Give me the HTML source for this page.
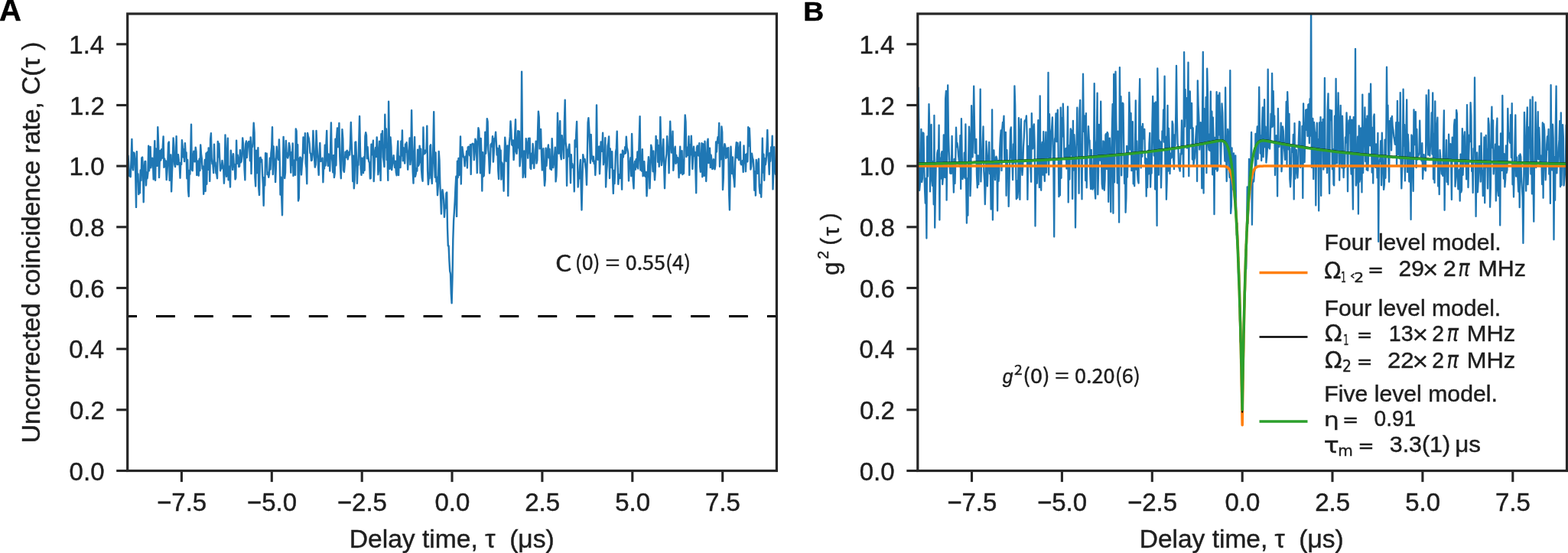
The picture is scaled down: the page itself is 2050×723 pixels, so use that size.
<!DOCTYPE html>
<html><head><meta charset="utf-8"><style>text{white-space:pre}html,body{margin:0;padding:0;background:#fff;width:2050px;height:723px;overflow:hidden}svg{display:block}</style></head>
<body>
<svg width="2050" height="723" viewBox="0 0 2050 723">
<rect width="2050" height="723" fill="#fff"/>
<defs><clipPath id="ca"><rect x="166.7" y="18.0" width="848.7" height="597.5"/></clipPath>
<clipPath id="cb"><rect x="1199.8" y="18.0" width="848.7" height="597.5"/></clipPath></defs>
<g clip-path="url(#ca)" fill="none" stroke-linejoin="round">
<path d="M166.7,208.5 L167.5,203.7 L168.3,216.7 L169.1,230.1 L169.9,223.9 L170.7,231.3 L171.6,207.1 L172.4,182.0 L173.2,217.8 L174.0,222.4 L174.8,199.5 L175.6,200.1 L176.4,208.5 L177.2,228.7 L178.0,270.9 L178.8,198.1 L179.6,237.0 L180.5,227.5 L181.3,254.1 L182.1,246.4 L182.9,252.2 L183.7,222.4 L184.5,235.9 L185.3,206.3 L186.1,205.6 L186.9,219.3 L187.7,264.3 L188.5,227.3 L189.4,211.2 L190.2,210.9 L191.0,242.4 L191.8,225.8 L192.6,233.2 L193.4,226.0 L194.2,190.8 L195.0,223.4 L195.8,209.5 L196.6,191.9 L197.4,219.3 L198.3,212.6 L199.1,206.8 L199.9,210.6 L200.7,234.5 L201.5,207.0 L202.3,184.1 L203.1,235.8 L203.9,194.5 L204.7,205.8 L205.5,216.9 L206.3,166.2 L207.2,190.6 L208.0,232.1 L208.8,209.0 L209.6,197.0 L210.4,209.5 L211.2,195.1 L212.0,206.7 L212.8,191.1 L213.6,178.4 L214.4,218.8 L215.2,207.5 L216.1,217.7 L216.9,210.5 L217.7,235.1 L218.5,224.7 L219.3,212.1 L220.1,187.2 L220.9,185.6 L221.7,235.8 L222.5,227.3 L223.3,202.4 L224.1,250.4 L225.0,224.0 L225.8,208.6 L226.6,180.5 L227.4,191.6 L228.2,214.7 L229.0,218.0 L229.8,210.9 L230.6,178.1 L231.4,214.4 L232.2,215.2 L233.0,202.2 L233.9,210.7 L234.7,216.0 L235.5,232.7 L236.3,212.9 L237.1,214.9 L237.9,183.3 L238.7,191.7 L239.5,205.5 L240.3,195.3 L241.1,211.1 L241.9,187.1 L242.8,204.2 L243.6,199.5 L244.4,233.3 L245.2,209.0 L246.0,248.7 L246.8,256.8 L247.6,222.6 L248.4,227.8 L249.2,201.3 L250.0,162.6 L250.8,221.7 L251.7,223.2 L252.5,204.3 L253.3,197.8 L254.1,211.3 L254.9,211.3 L255.7,192.6 L256.5,198.1 L257.3,229.0 L258.1,212.6 L258.9,210.5 L259.7,229.8 L260.6,207.8 L261.4,223.1 L262.2,189.4 L263.0,201.3 L263.8,207.3 L264.6,220.7 L265.4,217.5 L266.2,253.7 L267.0,236.4 L267.8,209.0 L268.6,250.0 L269.5,200.4 L270.3,240.8 L271.1,198.9 L271.9,221.9 L272.7,193.4 L273.5,207.2 L274.3,236.9 L275.1,181.8 L275.9,174.3 L276.7,206.3 L277.5,214.3 L278.3,214.6 L279.2,226.1 L280.0,188.6 L280.8,216.6 L281.6,212.5 L282.4,226.5 L283.2,226.6 L284.0,233.2 L284.8,185.0 L285.6,205.2 L286.4,187.7 L287.2,206.8 L288.1,223.3 L288.9,218.0 L289.7,220.4 L290.5,210.0 L291.3,216.4 L292.1,218.7 L292.9,239.8 L293.7,224.0 L294.5,176.5 L295.3,220.3 L296.1,230.8 L297.0,199.5 L297.8,180.7 L298.6,235.2 L299.4,217.5 L300.2,226.1 L301.0,244.6 L301.8,196.7 L302.6,205.9 L303.4,208.0 L304.2,222.0 L305.0,201.2 L305.9,218.0 L306.7,214.8 L307.5,234.5 L308.3,232.5 L309.1,183.6 L309.9,213.8 L310.7,202.6 L311.5,208.4 L312.3,218.1 L313.1,217.5 L313.9,196.1 L314.8,212.4 L315.6,211.2 L316.4,204.0 L317.2,180.4 L318.0,188.6 L318.8,198.7 L319.6,221.7 L320.4,235.4 L321.2,188.1 L322.0,184.5 L322.8,206.1 L323.7,193.9 L324.5,186.8 L325.3,184.9 L326.1,186.5 L326.9,210.2 L327.7,179.4 L328.5,227.1 L329.3,190.7 L330.1,191.9 L330.9,182.1 L331.7,160.8 L332.6,173.5 L333.4,231.6 L334.2,243.5 L335.0,196.7 L335.8,226.2 L336.6,207.5 L337.4,193.3 L338.2,244.9 L339.0,255.1 L339.8,206.7 L340.6,205.7 L341.5,211.6 L342.3,208.7 L343.1,228.7 L343.9,241.4 L344.7,268.9 L345.5,231.9 L346.3,242.6 L347.1,200.3 L347.9,205.4 L348.7,200.6 L349.5,228.1 L350.4,225.6 L351.2,231.7 L352.0,227.3 L352.8,206.6 L353.6,221.5 L354.4,200.0 L355.2,192.8 L356.0,166.2 L356.8,228.0 L357.6,191.4 L358.4,205.8 L359.3,210.6 L360.1,238.1 L360.9,217.8 L361.7,191.8 L362.5,205.7 L363.3,205.4 L364.1,208.9 L364.9,182.4 L365.7,209.2 L366.5,254.5 L367.3,231.7 L368.2,258.1 L369.0,281.4 L369.8,222.2 L370.6,178.9 L371.4,204.4 L372.2,233.0 L373.0,225.8 L373.8,183.9 L374.6,199.3 L375.4,204.4 L376.2,206.6 L377.1,202.9 L377.9,187.0 L378.7,191.2 L379.5,202.3 L380.3,225.8 L381.1,199.3 L381.9,215.8 L382.7,187.5 L383.5,229.9 L384.3,211.8 L385.1,209.5 L386.0,228.9 L386.8,168.5 L387.6,171.1 L388.4,209.2 L389.2,189.2 L390.0,262.6 L390.8,259.0 L391.6,207.0 L392.4,205.6 L393.2,206.4 L394.0,228.5 L394.9,214.2 L395.7,206.4 L396.5,179.5 L397.3,194.8 L398.1,200.2 L398.9,174.1 L399.7,213.7 L400.5,219.5 L401.3,240.3 L402.1,173.9 L402.9,177.8 L403.8,181.1 L404.6,187.9 L405.4,200.1 L406.2,200.5 L407.0,210.0 L407.8,209.5 L408.6,200.0 L409.4,171.0 L410.2,189.0 L411.0,205.9 L411.8,218.6 L412.7,215.2 L413.5,170.9 L414.3,189.3 L415.1,202.6 L415.9,214.5 L416.7,228.9 L417.5,206.4 L418.3,187.0 L419.1,210.9 L419.9,210.7 L420.7,209.2 L421.6,206.6 L422.4,238.2 L423.2,215.6 L424.0,220.4 L424.8,189.6 L425.6,216.5 L426.4,189.8 L427.2,170.9 L428.0,208.1 L428.8,216.9 L429.6,201.4 L430.5,206.0 L431.3,223.6 L432.1,191.3 L432.9,160.5 L433.7,204.3 L434.5,211.4 L435.3,225.4 L436.1,202.9 L436.9,232.0 L437.7,226.9 L438.5,181.7 L439.4,216.4 L440.2,178.9 L441.0,167.5 L441.8,192.3 L442.6,185.7 L443.4,161.0 L444.2,203.8 L445.0,219.8 L445.8,233.3 L446.6,201.9 L447.4,169.1 L448.3,181.3 L449.1,222.7 L449.9,224.9 L450.7,215.1 L451.5,198.6 L452.3,205.9 L453.1,198.0 L453.9,196.7 L454.7,208.4 L455.5,203.8 L456.3,198.6 L457.2,202.5 L458.0,187.2 L458.8,160.0 L459.6,184.9 L460.4,204.2 L461.2,237.0 L462.0,203.8 L462.8,246.3 L463.6,235.0 L464.4,186.0 L465.2,185.4 L466.1,208.0 L466.9,239.7 L467.7,216.3 L468.5,215.7 L469.3,184.3 L470.1,151.9 L470.9,193.4 L471.7,220.9 L472.5,228.9 L473.3,206.6 L474.1,208.7 L475.0,226.3 L475.8,205.3 L476.6,222.8 L477.4,178.3 L478.2,173.2 L479.0,177.0 L479.8,207.3 L480.6,192.1 L481.4,203.8 L482.2,210.8 L483.0,212.9 L483.9,233.5 L484.7,233.1 L485.5,188.6 L486.3,202.5 L487.1,194.3 L487.9,183.8 L488.7,237.1 L489.5,221.6 L490.3,198.2 L491.1,193.0 L491.9,205.0 L492.7,179.4 L493.6,196.7 L494.4,228.2 L495.2,221.4 L496.0,184.7 L496.8,193.6 L497.6,235.9 L498.4,175.3 L499.2,180.5 L500.0,171.3 L500.8,205.6 L501.6,210.5 L502.5,218.1 L503.3,149.8 L504.1,192.8 L504.9,168.5 L505.7,209.0 L506.5,202.6 L507.3,235.8 L508.1,132.7 L508.9,183.2 L509.7,220.8 L510.5,179.4 L511.4,192.4 L512.2,222.1 L513.0,214.1 L513.8,210.6 L514.6,203.1 L515.4,213.0 L516.2,219.1 L517.0,210.6 L517.8,225.2 L518.6,229.3 L519.4,201.2 L520.3,184.5 L521.1,229.1 L521.9,204.7 L522.7,215.3 L523.5,219.0 L524.3,184.7 L525.1,203.5 L525.9,170.5 L526.7,210.2 L527.5,193.1 L528.3,204.4 L529.2,213.6 L530.0,188.5 L530.8,198.7 L531.6,186.3 L532.4,200.7 L533.2,221.8 L534.0,203.3 L534.8,195.0 L535.6,180.4 L536.4,215.1 L537.2,206.1 L538.1,144.2 L538.9,192.0 L539.7,224.3 L540.5,239.6 L541.3,201.5 L542.1,179.2 L542.9,230.7 L543.7,227.5 L544.5,220.1 L545.3,223.5 L546.1,195.8 L547.0,216.7 L547.8,214.7 L548.6,190.6 L549.4,212.4 L550.2,194.7 L551.0,222.0 L551.8,232.6 L552.6,236.8 L553.4,166.5 L554.2,201.5 L555.0,196.4 L555.9,200.5 L556.7,197.9 L557.5,195.2 L558.3,164.6 L559.1,223.5 L559.9,241.2 L560.7,232.5 L561.5,233.0 L562.3,190.7 L563.1,189.2 L563.9,228.2 L564.8,240.0 L565.6,216.0 L566.4,189.0 L567.2,146.2 L568.0,211.4 L568.8,231.9 L569.6,199.4 L570.4,237.4 L571.2,231.5 L572.0,255.2 L572.8,243.7 L573.7,198.0 L574.5,209.4 L575.3,239.8 L576.1,258.2 L576.9,279.6 L577.7,254.9 L578.5,248.3 L579.3,253.1 L580.1,261.0 L580.9,283.9 L581.7,271.8 L582.6,272.1 L583.4,252.6 L584.2,251.4 L585.0,297.7 L585.8,321.5 L586.6,321.4 L587.4,340.7 L588.2,354.6 L589.0,358.1 L589.8,384.0 L590.6,396.4 L591.5,362.8 L592.3,313.5 L593.1,288.7 L593.9,276.7 L594.7,263.3 L595.5,245.0 L596.3,230.8 L597.1,282.9 L597.9,210.6 L598.7,232.2 L599.5,206.9 L600.4,229.0 L601.2,215.2 L602.0,178.5 L602.8,240.6 L603.6,198.8 L604.4,192.3 L605.2,199.2 L606.0,205.4 L606.8,206.5 L607.6,217.2 L608.4,204.6 L609.3,207.0 L610.1,197.6 L610.9,219.5 L611.7,192.8 L612.5,191.7 L613.3,198.9 L614.1,203.4 L614.9,189.1 L615.7,227.9 L616.5,189.4 L617.3,188.3 L618.2,187.8 L619.0,188.4 L619.8,209.2 L620.6,201.2 L621.4,181.8 L622.2,184.5 L623.0,194.4 L623.8,226.1 L624.6,185.6 L625.4,167.3 L626.2,171.1 L627.1,192.8 L627.9,226.2 L628.7,181.0 L629.5,203.8 L630.3,249.6 L631.1,199.3 L631.9,230.7 L632.7,229.8 L633.5,210.3 L634.3,172.6 L635.1,200.7 L636.0,187.6 L636.8,155.1 L637.6,159.0 L638.4,195.8 L639.2,206.0 L640.0,226.5 L640.8,214.3 L641.6,189.2 L642.4,187.7 L643.2,191.6 L644.0,178.3 L644.9,211.6 L645.7,199.1 L646.5,180.9 L647.3,180.7 L648.1,172.7 L648.9,187.6 L649.7,202.6 L650.5,193.9 L651.3,222.8 L652.1,234.1 L652.9,190.5 L653.8,197.2 L654.6,196.5 L655.4,234.6 L656.2,212.4 L657.0,214.6 L657.8,224.5 L658.6,249.7 L659.4,209.5 L660.2,179.7 L661.0,190.0 L661.8,210.7 L662.7,198.9 L663.5,190.4 L664.3,255.9 L665.1,207.7 L665.9,186.2 L666.7,178.9 L667.5,158.5 L668.3,170.0 L669.1,189.0 L669.9,190.2 L670.7,183.5 L671.6,209.1 L672.4,199.5 L673.2,175.4 L674.0,156.3 L674.8,198.1 L675.6,200.8 L676.4,192.3 L677.2,171.1 L678.0,193.2 L678.8,171.6 L679.6,217.2 L680.5,207.2 L681.3,202.8 L682.1,93.6 L682.9,180.1 L683.7,232.0 L684.5,222.9 L685.3,197.5 L686.1,217.6 L686.9,231.8 L687.7,181.3 L688.5,186.2 L689.4,190.2 L690.2,206.8 L691.0,180.9 L691.8,200.3 L692.6,180.7 L693.4,219.6 L694.2,221.0 L695.0,200.8 L695.8,213.6 L696.6,188.0 L697.4,196.3 L698.2,219.9 L699.1,203.1 L699.9,206.1 L700.7,184.6 L701.5,213.6 L702.3,209.2 L703.1,171.1 L703.9,145.6 L704.7,153.2 L705.5,194.4 L706.3,192.8 L707.1,169.0 L708.0,202.9 L708.8,222.5 L709.6,200.8 L710.4,194.2 L711.2,222.7 L712.0,242.8 L712.8,235.0 L713.6,193.8 L714.4,216.8 L715.2,206.6 L716.0,196.4 L716.9,189.4 L717.7,206.4 L718.5,195.0 L719.3,220.8 L720.1,215.1 L720.9,222.1 L721.7,181.3 L722.5,202.0 L723.3,219.2 L724.1,212.6 L724.9,206.4 L725.8,192.6 L726.6,237.4 L727.4,229.9 L728.2,206.8 L729.0,147.6 L729.8,176.2 L730.6,200.8 L731.4,182.7 L732.2,158.1 L733.0,203.5 L733.8,208.2 L734.7,177.1 L735.5,187.7 L736.3,189.0 L737.1,207.1 L737.9,159.3 L738.7,130.7 L739.5,185.0 L740.3,192.7 L741.1,242.8 L741.9,195.8 L742.7,204.7 L743.6,193.0 L744.4,188.8 L745.2,213.4 L746.0,239.3 L746.8,202.3 L747.6,219.2 L748.4,214.2 L749.2,218.3 L750.0,218.7 L750.8,250.4 L751.6,183.5 L752.5,192.3 L753.3,174.4 L754.1,159.0 L754.9,203.0 L755.7,244.5 L756.5,230.9 L757.3,233.3 L758.1,217.7 L758.9,209.0 L759.7,245.4 L760.5,274.5 L761.4,234.5 L762.2,202.2 L763.0,206.6 L763.8,211.4 L764.6,208.1 L765.4,217.6 L766.2,223.2 L767.0,241.8 L767.8,204.6 L768.6,160.2 L769.4,154.2 L770.3,169.4 L771.1,187.9 L771.9,213.2 L772.7,176.0 L773.5,202.2 L774.3,207.1 L775.1,210.8 L775.9,204.7 L776.7,214.0 L777.5,210.6 L778.3,229.0 L779.2,209.6 L780.0,137.5 L780.8,201.0 L781.6,208.8 L782.4,192.4 L783.2,191.5 L784.0,227.3 L784.8,209.9 L785.6,185.5 L786.4,196.6 L787.2,197.7 L788.1,173.7 L788.9,215.2 L789.7,206.6 L790.5,212.1 L791.3,180.2 L792.1,244.5 L792.9,226.1 L793.7,216.6 L794.5,191.1 L795.3,187.1 L796.1,178.4 L797.0,233.1 L797.8,194.5 L798.6,211.5 L799.4,219.0 L800.2,198.3 L801.0,229.1 L801.8,253.0 L802.6,222.9 L803.4,240.1 L804.2,222.4 L805.0,198.7 L805.9,193.9 L806.7,171.8 L807.5,209.8 L808.3,240.8 L809.1,228.3 L809.9,230.5 L810.7,232.9 L811.5,201.6 L812.3,223.6 L813.1,247.7 L813.9,196.7 L814.8,205.5 L815.6,198.4 L816.4,201.2 L817.2,192.3 L818.0,200.3 L818.8,178.7 L819.6,192.8 L820.4,195.6 L821.2,200.3 L822.0,236.4 L822.8,214.2 L823.7,211.6 L824.5,206.1 L825.3,230.2 L826.1,175.0 L826.9,203.0 L827.7,236.2 L828.5,246.5 L829.3,217.1 L830.1,210.9 L830.9,221.6 L831.7,208.1 L832.6,218.3 L833.4,198.4 L834.2,220.5 L835.0,206.6 L835.8,179.1 L836.6,152.1 L837.4,222.3 L838.2,221.3 L839.0,223.6 L839.8,195.3 L840.6,230.2 L841.5,220.0 L842.3,211.2 L843.1,230.0 L843.9,230.9 L844.7,224.9 L845.5,256.3 L846.3,244.1 L847.1,219.0 L847.9,205.3 L848.7,215.1 L849.5,246.2 L850.4,219.3 L851.2,189.7 L852.0,193.2 L852.8,209.5 L853.6,224.3 L854.4,197.5 L855.2,220.7 L856.0,235.4 L856.8,223.3 L857.6,177.9 L858.4,195.5 L859.3,183.2 L860.1,211.7 L860.9,190.1 L861.7,217.8 L862.5,205.5 L863.3,152.9 L864.1,185.7 L864.9,216.0 L865.7,209.5 L866.5,197.3 L867.3,182.0 L868.2,219.0 L869.0,246.2 L869.8,217.8 L870.6,207.4 L871.4,201.5 L872.2,178.3 L873.0,195.0 L873.8,192.2 L874.6,226.3 L875.4,186.4 L876.2,158.7 L877.1,184.8 L877.9,199.6 L878.7,198.8 L879.5,171.7 L880.3,222.7 L881.1,211.1 L881.9,196.1 L882.7,191.7 L883.5,214.0 L884.3,203.0 L885.1,212.4 L886.0,206.1 L886.8,213.1 L887.6,232.2 L888.4,208.8 L889.2,191.7 L890.0,226.5 L890.8,213.6 L891.6,197.1 L892.4,228.1 L893.2,209.5 L894.0,226.7 L894.9,180.4 L895.7,150.4 L896.5,159.4 L897.3,205.1 L898.1,192.4 L898.9,203.0 L899.7,201.3 L900.5,178.3 L901.3,228.9 L902.1,189.2 L902.9,202.4 L903.8,177.7 L904.6,202.0 L905.4,221.0 L906.2,201.9 L907.0,191.6 L907.8,204.0 L908.6,199.0 L909.4,223.4 L910.2,252.2 L911.0,192.8 L911.8,190.5 L912.6,202.9 L913.5,203.5 L914.3,187.2 L915.1,216.9 L915.9,224.8 L916.7,210.9 L917.5,187.1 L918.3,231.2 L919.1,188.3 L919.9,221.5 L920.7,229.9 L921.5,184.7 L922.4,210.4 L923.2,237.0 L924.0,216.8 L924.8,186.3 L925.6,181.7 L926.4,213.1 L927.2,198.9 L928.0,193.8 L928.8,219.1 L929.6,202.6 L930.4,209.5 L931.3,221.1 L932.1,220.0 L932.9,208.2 L933.7,209.1 L934.5,221.4 L935.3,216.0 L936.1,185.4 L936.9,198.6 L937.7,185.9 L938.5,179.1 L939.3,186.8 L940.2,161.0 L941.0,217.8 L941.8,194.4 L942.6,208.2 L943.4,165.5 L944.2,172.8 L945.0,248.0 L945.8,232.5 L946.6,195.0 L947.4,188.1 L948.2,191.1 L949.1,206.9 L949.9,197.4 L950.7,193.8 L951.5,205.8 L952.3,193.1 L953.1,252.1 L953.9,274.5 L954.7,226.4 L955.5,191.7 L956.3,213.3 L957.1,227.1 L958.0,205.5 L958.8,229.4 L959.6,234.6 L960.4,244.4 L961.2,212.1 L962.0,195.6 L962.8,186.1 L963.6,206.3 L964.4,186.9 L965.2,205.9 L966.0,209.2 L966.9,194.1 L967.7,185.8 L968.5,213.9 L969.3,215.3 L970.1,212.7 L970.9,209.9 L971.7,225.0 L972.5,190.5 L973.3,213.4 L974.1,202.3 L974.9,224.2 L975.8,202.5 L976.6,200.8 L977.4,211.4 L978.2,166.3 L979.0,191.0 L979.8,167.8 L980.6,185.7 L981.4,221.5 L982.2,217.7 L983.0,200.6 L983.8,206.4 L984.7,208.6 L985.5,219.7 L986.3,248.7 L987.1,224.5 L987.9,255.6 L988.7,209.0 L989.5,225.3 L990.3,226.7 L991.1,214.9 L991.9,207.7 L992.7,243.3 L993.6,252.7 L994.4,241.7 L995.2,257.7 L996.0,230.8 L996.8,180.8 L997.6,225.6 L998.4,201.8 L999.2,235.7 L1000.0,207.3 L1000.8,215.3 L1001.6,209.8 L1002.5,192.6 L1003.3,170.0 L1004.1,200.1 L1004.9,208.6 L1005.7,228.0 L1006.5,200.1 L1007.3,210.7 L1008.1,192.4 L1008.9,203.4 L1009.7,177.7 L1010.5,247.4 L1011.4,218.5 L1012.2,192.3 L1013.0,216.5 L1013.8,227.7 L1014.6,220.7 L1015.4,239.2" stroke="#1f77b4" stroke-width="2.4"/>
<line x1="154.1" y1="413.6" x2="1015.4" y2="413.6" stroke="#000" stroke-width="3" stroke-dasharray="24.9 25.03"/>
</g>
<g clip-path="url(#cb)" fill="none" stroke-linejoin="round">
<path d="M1199.8,202.6 L1200.6,114.7 L1201.3,163.8 L1202.1,249.0 L1202.9,240.1 L1203.7,222.4 L1204.4,169.0 L1205.2,238.1 L1206.0,233.1 L1206.8,173.5 L1207.5,174.3 L1208.3,221.1 L1209.1,249.2 L1209.8,265.6 L1210.6,233.4 L1211.4,311.6 L1212.2,178.5 L1212.9,230.7 L1213.7,188.6 L1214.5,136.1 L1215.2,162.4 L1216.0,250.4 L1216.8,173.9 L1217.6,163.0 L1218.3,235.0 L1219.1,242.8 L1219.9,210.9 L1220.7,267.3 L1221.4,151.0 L1222.2,297.7 L1223.0,248.6 L1223.7,216.9 L1224.5,215.2 L1225.3,200.3 L1226.1,196.3 L1226.8,214.7 L1227.6,163.6 L1228.4,287.5 L1229.1,206.6 L1229.9,233.6 L1230.7,201.5 L1231.5,198.1 L1232.2,241.0 L1233.0,230.7 L1233.8,176.5 L1234.6,193.2 L1235.3,232.2 L1236.1,129.2 L1236.9,119.0 L1237.6,261.7 L1238.4,194.9 L1239.2,111.4 L1240.0,176.6 L1240.7,197.9 L1241.5,214.1 L1242.3,226.7 L1243.0,214.3 L1243.8,227.1 L1244.6,178.0 L1245.4,221.2 L1246.1,222.9 L1246.9,251.6 L1247.7,208.0 L1248.5,239.9 L1249.2,212.9 L1250.0,166.6 L1250.8,192.2 L1251.5,186.9 L1252.3,192.5 L1253.1,203.8 L1253.9,210.8 L1254.6,217.6 L1255.4,177.2 L1256.2,246.9 L1256.9,155.2 L1257.7,204.6 L1258.5,234.2 L1259.3,224.3 L1260.0,231.4 L1260.8,199.7 L1261.6,232.9 L1262.4,162.5 L1263.1,235.3 L1263.9,291.7 L1264.7,233.4 L1265.4,281.7 L1266.2,207.2 L1267.0,165.6 L1267.8,181.1 L1268.5,256.2 L1269.3,234.4 L1270.1,138.2 L1270.8,193.5 L1271.6,205.4 L1272.4,165.5 L1273.2,112.6 L1273.9,156.4 L1274.7,200.1 L1275.5,192.0 L1276.3,182.0 L1277.0,228.5 L1277.8,245.4 L1278.6,203.3 L1279.3,241.1 L1280.1,207.6 L1280.9,201.6 L1281.7,116.6 L1282.4,237.4 L1283.2,209.8 L1284.0,211.4 L1284.7,188.6 L1285.5,165.5 L1286.3,223.6 L1287.1,236.1 L1287.8,267.1 L1288.6,240.1 L1289.4,184.7 L1290.2,203.2 L1290.9,243.4 L1291.7,219.0 L1292.5,203.7 L1293.2,185.8 L1294.0,227.3 L1294.8,214.3 L1295.6,273.6 L1296.3,248.3 L1297.1,143.5 L1297.9,287.5 L1298.6,217.5 L1299.4,196.4 L1300.2,218.8 L1301.0,235.2 L1301.7,206.9 L1302.5,204.7 L1303.3,207.6 L1304.1,275.6 L1304.8,210.1 L1305.6,236.8 L1306.4,225.2 L1307.1,195.8 L1307.9,180.1 L1308.7,170.4 L1309.5,223.1 L1310.2,169.3 L1311.0,159.8 L1311.8,161.2 L1312.5,151.6 L1313.3,209.7 L1314.1,210.7 L1314.9,172.9 L1315.6,255.8 L1316.4,196.1 L1317.2,224.1 L1318.0,218.0 L1318.7,269.9 L1319.5,237.7 L1320.3,204.7 L1321.0,170.3 L1321.8,166.4 L1322.6,206.9 L1323.4,211.0 L1324.1,235.2 L1324.9,188.5 L1325.7,213.1 L1326.4,112.4 L1327.2,137.4 L1328.0,204.9 L1328.8,260.3 L1329.5,236.1 L1330.3,258.7 L1331.1,248.8 L1331.9,154.1 L1332.6,194.9 L1333.4,260.9 L1334.2,178.6 L1334.9,155.6 L1335.7,216.9 L1336.5,228.9 L1337.3,216.0 L1338.0,192.4 L1338.8,179.0 L1339.6,158.4 L1340.3,157.2 L1341.1,158.2 L1341.9,151.5 L1342.7,178.0 L1343.4,260.9 L1344.2,207.9 L1345.0,191.0 L1345.8,217.4 L1346.5,168.4 L1347.3,216.4 L1348.1,237.8 L1348.8,148.1 L1349.6,177.5 L1350.4,194.4 L1351.2,167.6 L1351.9,162.4 L1352.7,189.7 L1353.5,295.5 L1354.2,228.1 L1355.0,219.7 L1355.8,239.7 L1356.6,194.9 L1357.3,157.2 L1358.1,220.7 L1358.9,245.2 L1359.7,125.5 L1360.4,219.3 L1361.2,248.8 L1362.0,193.1 L1362.7,186.0 L1363.5,228.7 L1364.3,172.1 L1365.1,220.4 L1365.8,236.9 L1366.6,195.1 L1367.4,172.7 L1368.1,225.8 L1368.9,189.3 L1369.7,205.3 L1370.5,94.8 L1371.2,228.5 L1372.0,149.2 L1372.8,203.6 L1373.6,206.3 L1374.3,174.2 L1375.1,167.6 L1375.9,153.5 L1376.6,188.9 L1377.4,224.1 L1378.2,309.6 L1379.0,182.0 L1379.7,179.2 L1380.5,148.3 L1381.3,185.3 L1382.1,161.0 L1382.8,143.6 L1383.6,194.8 L1384.4,257.2 L1385.1,245.5 L1385.9,255.3 L1386.7,140.6 L1387.5,232.8 L1388.2,154.1 L1389.0,178.5 L1389.8,135.7 L1390.5,162.6 L1391.3,204.4 L1392.1,208.1 L1392.9,197.2 L1393.6,193.8 L1394.4,220.5 L1395.2,201.6 L1396.0,139.4 L1396.7,264.6 L1397.5,190.4 L1398.3,234.5 L1399.0,193.0 L1399.8,168.3 L1400.6,202.2 L1401.4,170.7 L1402.1,260.1 L1402.9,158.0 L1403.7,222.6 L1404.4,176.2 L1405.2,192.8 L1406.0,297.5 L1406.8,228.2 L1407.5,191.2 L1408.3,140.7 L1409.1,188.6 L1409.9,189.6 L1410.6,252.8 L1411.4,145.1 L1412.2,130.9 L1412.9,198.1 L1413.7,207.5 L1414.5,260.4 L1415.3,165.6 L1416.0,96.7 L1416.8,171.8 L1417.6,151.1 L1418.3,178.3 L1419.1,236.0 L1419.9,148.1 L1420.7,245.4 L1421.4,206.6 L1422.2,188.0 L1423.0,165.1 L1423.8,182.7 L1424.5,183.7 L1425.3,227.1 L1426.1,247.1 L1426.8,195.9 L1427.6,225.0 L1428.4,247.6 L1429.2,246.0 L1429.9,216.5 L1430.7,109.2 L1431.5,248.9 L1432.2,259.7 L1433.0,190.9 L1433.8,182.3 L1434.6,121.7 L1435.3,254.3 L1436.1,223.2 L1436.9,162.9 L1437.7,205.6 L1438.4,209.7 L1439.2,132.6 L1440.0,210.0 L1440.7,240.9 L1441.5,246.9 L1442.3,184.3 L1443.1,185.4 L1443.8,248.8 L1444.6,234.1 L1445.4,176.5 L1446.1,174.9 L1446.9,221.0 L1447.7,173.0 L1448.5,174.9 L1449.2,263.9 L1450.0,208.2 L1450.8,180.6 L1451.6,217.9 L1452.3,277.1 L1453.1,206.8 L1453.9,167.6 L1454.6,136.2 L1455.4,278.8 L1456.2,97.0 L1457.0,238.4 L1457.7,159.5 L1458.5,93.6 L1459.3,158.4 L1460.0,189.9 L1460.8,239.4 L1461.6,171.7 L1462.4,222.4 L1463.1,290.7 L1463.9,88.1 L1464.7,168.3 L1465.5,126.2 L1466.2,229.4 L1467.0,139.3 L1467.8,134.6 L1468.5,135.9 L1469.3,195.5 L1470.1,240.1 L1470.9,201.2 L1471.6,277.8 L1472.4,258.8 L1473.2,190.8 L1473.9,231.7 L1474.7,200.4 L1475.5,198.2 L1476.3,120.9 L1477.0,144.8 L1477.8,195.5 L1478.6,148.0 L1479.4,223.2 L1480.1,206.3 L1480.9,159.1 L1481.7,240.4 L1482.4,203.9 L1483.2,243.3 L1484.0,188.7 L1484.8,131.3 L1485.5,221.5 L1486.3,184.4 L1487.1,226.8 L1487.8,236.3 L1488.6,239.5 L1489.4,137.6 L1490.2,103.1 L1490.9,174.2 L1491.7,219.5 L1492.5,165.6 L1493.3,204.8 L1494.0,161.8 L1494.8,181.0 L1495.6,181.3 L1496.3,168.9 L1497.1,213.7 L1497.9,207.0 L1498.7,256.7 L1499.4,208.2 L1500.2,245.2 L1501.0,196.8 L1501.7,227.5 L1502.5,187.3 L1503.3,173.9 L1504.1,244.7 L1504.8,221.6 L1505.6,226.5 L1506.4,162.4 L1507.2,126.0 L1507.9,158.3 L1508.7,203.6 L1509.5,134.9 L1510.2,247.5 L1511.0,133.4 L1511.8,214.8 L1512.6,295.1 L1513.3,89.5 L1514.1,130.0 L1514.9,228.7 L1515.6,183.1 L1516.4,197.5 L1517.2,185.5 L1518.0,245.4 L1518.7,214.9 L1519.5,171.3 L1520.3,180.5 L1521.1,143.4 L1521.8,185.7 L1522.6,99.7 L1523.4,215.6 L1524.1,178.6 L1524.9,260.8 L1525.7,235.6 L1526.5,137.8 L1527.2,223.7 L1528.0,167.8 L1528.8,190.1 L1529.5,227.2 L1530.3,200.7 L1531.1,206.9 L1531.9,205.8 L1532.6,158.7 L1533.4,162.4 L1534.2,208.9 L1535.0,221.2 L1535.7,176.1 L1536.5,190.5 L1537.3,147.7 L1538.0,86.0 L1538.8,154.4 L1539.6,187.5 L1540.4,192.6 L1541.1,218.4 L1541.9,220.2 L1542.7,223.7 L1543.5,200.6 L1544.2,201.7 L1545.0,157.3 L1545.8,200.4 L1546.5,192.7 L1547.3,231.2 L1548.1,68.2 L1548.9,165.6 L1549.6,117.0 L1550.4,154.4 L1551.2,128.1 L1551.9,193.7 L1552.7,157.1 L1553.5,81.7 L1554.3,230.3 L1555.0,139.3 L1555.8,119.5 L1556.6,167.7 L1557.4,154.5 L1558.1,134.9 L1558.9,208.6 L1559.7,167.3 L1560.4,216.6 L1561.2,209.0 L1562.0,206.6 L1562.8,188.1 L1563.5,176.8 L1564.3,164.8 L1565.1,237.1 L1565.8,105.4 L1566.6,137.2 L1567.4,153.7 L1568.2,195.6 L1568.9,185.0 L1569.7,160.2 L1570.5,165.4 L1571.3,246.3 L1572.0,152.3 L1572.8,67.9 L1573.6,252.5 L1574.3,142.1 L1575.1,166.3 L1575.9,184.8 L1576.7,127.2 L1577.4,226.2 L1578.2,89.7 L1579.0,123.3 L1579.7,187.7 L1580.5,196.2 L1581.3,175.4 L1582.1,197.1 L1582.8,119.6 L1583.6,215.0 L1584.4,145.7 L1585.2,228.3 L1585.9,153.6 L1586.7,183.7 L1587.5,280.2 L1588.2,180.0 L1589.0,221.3 L1589.8,197.2 L1590.6,120.2 L1591.3,223.7 L1592.1,221.7 L1592.9,124.6 L1593.6,176.4 L1594.4,121.3 L1595.2,169.1 L1596.0,216.5 L1596.7,185.3 L1597.5,135.5 L1598.3,147.5 L1599.1,184.9 L1599.8,184.0 L1600.6,191.3 L1601.4,210.7 L1602.1,114.4 L1602.9,190.9 L1603.7,237.0 L1604.5,213.5 L1605.2,169.0 L1606.0,174.9 L1606.8,208.1 L1607.5,232.0 L1608.3,92.1 L1609.1,279.0 L1609.9,269.0 L1610.6,193.4 L1611.4,247.6 L1612.2,222.6 L1613.0,200.3 L1613.7,229.6 L1614.5,260.8 L1615.3,203.4 L1616.0,263.2 L1616.8,307.3 L1617.6,291.8 L1618.4,318.1 L1619.1,366.8 L1619.9,366.4 L1620.7,394.2 L1621.4,445.9 L1622.2,448.9 L1623.0,483.0 L1623.8,535.8 L1624.5,524.7 L1625.3,467.7 L1626.1,427.3 L1626.9,392.8 L1627.6,389.9 L1628.4,326.6 L1629.2,352.0 L1629.9,307.4 L1630.7,244.3 L1631.5,292.3 L1632.3,274.5 L1633.0,208.0 L1633.8,250.3 L1634.6,238.9 L1635.3,211.7 L1636.1,172.9 L1636.9,293.8 L1637.7,235.3 L1638.4,238.0 L1639.2,237.2 L1640.0,225.0 L1640.8,221.5 L1641.5,174.8 L1642.3,218.9 L1643.1,177.7 L1643.8,165.3 L1644.6,207.8 L1645.4,173.3 L1646.2,113.9 L1646.9,164.0 L1647.7,200.5 L1648.5,177.7 L1649.2,210.1 L1650.0,163.7 L1650.8,140.5 L1651.6,205.3 L1652.3,181.5 L1653.1,130.2 L1653.9,192.3 L1654.7,165.7 L1655.4,212.6 L1656.2,204.6 L1657.0,192.8 L1657.7,90.6 L1658.5,188.5 L1659.3,193.2 L1660.1,194.5 L1660.8,179.6 L1661.6,148.6 L1662.4,166.3 L1663.1,95.8 L1663.9,165.7 L1664.7,119.1 L1665.5,163.6 L1666.2,151.3 L1667.0,229.0 L1667.8,179.3 L1668.6,177.3 L1669.3,184.0 L1670.1,256.5 L1670.9,141.9 L1671.6,190.0 L1672.4,192.1 L1673.2,185.3 L1674.0,184.5 L1674.7,160.6 L1675.5,224.3 L1676.3,211.6 L1677.0,165.5 L1677.8,171.2 L1678.6,191.1 L1679.4,198.8 L1680.1,208.8 L1680.9,179.6 L1681.7,132.9 L1682.5,217.8 L1683.2,120.2 L1684.0,146.1 L1684.8,195.4 L1685.5,148.8 L1686.3,234.0 L1687.1,244.3 L1687.9,227.7 L1688.6,194.6 L1689.4,191.5 L1690.2,198.9 L1690.9,175.8 L1691.7,260.5 L1692.5,161.1 L1693.3,233.7 L1694.0,205.2 L1694.8,195.9 L1695.6,224.2 L1696.4,232.5 L1697.1,218.8 L1697.9,181.4 L1698.7,158.8 L1699.4,159.9 L1700.2,219.0 L1701.0,211.5 L1701.8,216.5 L1702.5,164.8 L1703.3,259.1 L1704.1,135.3 L1704.8,200.6 L1705.6,212.1 L1706.4,169.7 L1707.2,143.6 L1707.9,169.9 L1708.7,143.1 L1709.5,178.0 L1710.3,136.7 L1711.0,136.3 L1711.8,187.3 L1712.6,129.2 L1713.3,177.6 L1714.1,-5.9 L1714.9,219.0 L1715.7,195.1 L1716.4,154.9 L1717.2,234.2 L1718.0,160.0 L1718.8,171.6 L1719.5,174.4 L1720.3,268.5 L1721.1,189.0 L1721.8,160.7 L1722.6,214.3 L1723.4,182.1 L1724.2,275.6 L1724.9,160.4 L1725.7,211.0 L1726.5,153.1 L1727.2,255.9 L1728.0,160.1 L1728.8,195.4 L1729.6,156.0 L1730.3,221.7 L1731.1,210.2 L1731.9,102.0 L1732.7,218.4 L1733.4,213.8 L1734.2,197.7 L1735.0,226.1 L1735.7,142.4 L1736.5,122.3 L1737.3,214.3 L1738.1,253.1 L1738.8,143.6 L1739.6,146.1 L1740.4,157.1 L1741.1,144.5 L1741.9,221.2 L1742.7,194.9 L1743.5,241.0 L1744.2,242.4 L1745.0,151.7 L1745.8,214.4 L1746.6,102.8 L1747.3,186.3 L1748.1,213.5 L1748.9,159.2 L1749.6,121.3 L1750.4,171.2 L1751.2,235.7 L1752.0,175.7 L1752.7,137.8 L1753.5,208.7 L1754.3,219.4 L1755.0,151.7 L1755.8,185.0 L1756.6,232.1 L1757.4,204.9 L1758.1,219.2 L1758.9,179.5 L1759.7,186.6 L1760.5,147.4 L1761.2,164.1 L1762.0,250.3 L1762.8,175.8 L1763.5,157.3 L1764.3,174.1 L1765.1,152.5 L1765.9,212.4 L1766.6,227.7 L1767.4,156.6 L1768.2,232.2 L1768.9,273.7 L1769.7,153.2 L1770.5,219.5 L1771.3,203.8 L1772.0,63.8 L1772.8,242.6 L1773.6,236.3 L1774.4,206.2 L1775.1,178.7 L1775.9,279.7 L1776.7,164.4 L1777.4,237.7 L1778.2,233.4 L1779.0,167.5 L1779.8,196.0 L1780.5,251.4 L1781.3,123.6 L1782.1,226.0 L1782.8,184.2 L1783.6,186.1 L1784.4,140.3 L1785.2,211.0 L1785.9,155.7 L1786.7,222.0 L1787.5,151.6 L1788.3,223.0 L1789.0,207.9 L1789.8,122.5 L1790.6,182.4 L1791.3,190.3 L1792.1,109.7 L1792.9,180.9 L1793.7,225.6 L1794.4,166.9 L1795.2,239.5 L1796.0,152.2 L1796.7,149.3 L1797.5,216.7 L1798.3,218.9 L1799.1,188.5 L1799.8,194.7 L1800.6,232.4 L1801.4,173.9 L1802.2,315.9 L1802.9,212.0 L1803.7,210.9 L1804.5,206.1 L1805.2,184.2 L1806.0,242.3 L1806.8,173.7 L1807.6,202.8 L1808.3,220.7 L1809.1,247.9 L1809.9,241.0 L1810.6,182.7 L1811.4,232.8 L1812.2,194.0 L1813.0,87.7 L1813.7,157.5 L1814.5,137.6 L1815.3,207.9 L1816.1,237.8 L1816.8,158.2 L1817.6,185.2 L1818.4,154.4 L1819.1,196.6 L1819.9,151.9 L1820.7,165.1 L1821.5,170.1 L1822.2,178.2 L1823.0,182.3 L1823.8,188.6 L1824.5,188.9 L1825.3,160.1 L1826.1,217.0 L1826.9,132.0 L1827.6,201.8 L1828.4,160.5 L1829.2,201.3 L1830.0,207.3 L1830.7,121.1 L1831.5,209.8 L1832.3,246.4 L1833.0,225.2 L1833.8,210.2 L1834.6,116.7 L1835.4,190.5 L1836.1,163.0 L1836.9,236.4 L1837.7,185.2 L1838.4,173.2 L1839.2,130.5 L1840.0,225.0 L1840.8,175.9 L1841.5,187.4 L1842.3,237.5 L1843.1,199.7 L1843.9,208.9 L1844.6,287.0 L1845.4,176.4 L1846.2,178.7 L1846.9,215.8 L1847.7,249.9 L1848.5,143.3 L1849.3,189.3 L1850.0,160.9 L1850.8,146.1 L1851.6,219.2 L1852.3,168.8 L1853.1,208.7 L1853.9,202.0 L1854.7,203.0 L1855.4,199.8 L1856.2,157.7 L1857.0,195.2 L1857.8,205.7 L1858.5,210.4 L1859.3,187.1 L1860.1,233.9 L1860.8,219.2 L1861.6,202.2 L1862.4,221.6 L1863.2,204.8 L1863.9,223.4 L1864.7,124.5 L1865.5,150.1 L1866.2,183.4 L1867.0,202.5 L1867.8,117.7 L1868.6,188.4 L1869.3,203.9 L1870.1,189.2 L1870.9,189.2 L1871.7,147.4 L1872.4,201.6 L1873.2,121.4 L1874.0,234.3 L1874.7,174.7 L1875.5,238.9 L1876.3,132.3 L1877.1,213.6 L1877.8,203.4 L1878.6,166.2 L1879.4,153.7 L1880.2,243.4 L1880.9,214.4 L1881.7,254.2 L1882.5,196.2 L1883.2,205.3 L1884.0,214.7 L1884.8,227.5 L1885.6,216.2 L1886.3,229.9 L1887.1,181.7 L1887.9,144.3 L1888.6,274.8 L1889.4,206.2 L1890.2,217.7 L1891.0,183.2 L1891.7,237.9 L1892.5,207.5 L1893.3,241.3 L1894.1,175.7 L1894.8,198.3 L1895.6,208.2 L1896.4,188.2 L1897.1,211.5 L1897.9,261.0 L1898.7,179.7 L1899.5,191.4 L1900.2,208.2 L1901.0,165.1 L1901.8,156.3 L1902.5,243.8 L1903.3,232.1 L1904.1,144.0 L1904.9,148.9 L1905.6,230.6 L1906.4,247.3 L1907.2,226.8 L1908.0,221.6 L1908.7,262.7 L1909.5,201.6 L1910.3,251.3 L1911.0,248.7 L1911.8,168.2 L1912.6,228.8 L1913.4,205.7 L1914.1,179.2 L1914.9,172.3 L1915.7,215.8 L1916.4,201.4 L1917.2,234.4 L1918.0,137.1 L1918.8,178.6 L1919.5,245.0 L1920.3,203.1 L1921.1,176.3 L1921.9,185.2 L1922.6,134.2 L1923.4,151.5 L1924.2,223.9 L1924.9,206.9 L1925.7,252.0 L1926.5,194.1 L1927.3,197.9 L1928.0,101.3 L1928.8,199.9 L1929.6,282.9 L1930.3,229.1 L1931.1,199.5 L1931.9,251.3 L1932.7,236.6 L1933.4,217.7 L1934.2,190.9 L1935.0,210.1 L1935.8,237.6 L1936.5,174.1 L1937.3,224.4 L1938.1,222.9 L1938.8,256.2 L1939.6,233.8 L1940.4,179.4 L1941.2,265.3 L1941.9,206.8 L1942.7,177.0 L1943.5,218.5 L1944.2,195.2 L1945.0,246.5 L1945.8,154.7 L1946.6,162.7 L1947.3,195.4 L1948.1,270.8 L1948.9,244.0 L1949.7,167.5 L1950.4,139.6 L1951.2,193.3 L1952.0,157.3 L1952.7,227.5 L1953.5,211.7 L1954.3,204.6 L1955.1,188.6 L1955.8,262.5 L1956.6,169.1 L1957.4,154.7 L1958.1,248.2 L1958.9,256.0 L1959.7,191.5 L1960.5,229.6 L1961.2,294.6 L1962.0,174.3 L1962.8,199.0 L1963.6,222.9 L1964.3,125.0 L1965.1,199.7 L1965.9,233.5 L1966.6,201.2 L1967.4,244.4 L1968.2,233.9 L1969.0,190.5 L1969.7,226.1 L1970.5,222.2 L1971.3,142.0 L1972.0,172.6 L1972.8,174.8 L1973.6,185.2 L1974.4,186.9 L1975.1,150.1 L1975.9,206.0 L1976.7,135.1 L1977.5,241.3 L1978.2,215.0 L1979.0,257.6 L1979.8,218.4 L1980.5,185.8 L1981.3,150.5 L1982.1,230.6 L1982.9,205.3 L1983.6,219.1 L1984.4,233.5 L1985.2,250.6 L1985.9,203.3 L1986.7,271.2 L1987.5,201.4 L1988.3,204.9 L1989.0,230.6 L1989.8,244.0 L1990.6,258.1 L1991.4,317.9 L1992.1,256.5 L1992.9,146.8 L1993.7,183.1 L1994.4,219.6 L1995.2,249.6 L1996.0,166.4 L1996.8,140.4 L1997.5,241.2 L1998.3,217.2 L1999.1,166.1 L1999.8,193.3 L2000.6,130.3 L2001.4,227.6 L2002.2,185.5 L2002.9,253.4 L2003.7,126.7 L2004.5,233.7 L2005.3,289.7 L2006.0,210.9 L2006.8,211.4 L2007.6,133.7 L2008.3,219.0 L2009.1,206.7 L2009.9,183.8 L2010.7,146.2 L2011.4,208.6 L2012.2,166.9 L2013.0,186.7 L2013.7,217.5 L2014.5,203.4 L2015.3,205.3 L2016.1,241.0 L2016.8,160.4 L2017.6,258.8 L2018.4,162.1 L2019.2,170.3 L2019.9,210.0 L2020.7,235.4 L2021.5,215.0 L2022.2,188.6 L2023.0,178.4 L2023.8,195.7 L2024.6,169.0 L2025.3,227.7 L2026.1,197.7 L2026.9,265.9 L2027.6,111.2 L2028.4,200.8 L2029.2,222.4 L2030.0,162.7 L2030.7,180.5 L2031.5,313.3 L2032.3,205.2 L2033.1,261.8 L2033.8,166.4 L2034.6,112.6 L2035.4,226.4 L2036.1,204.0 L2036.9,216.3 L2037.7,193.5 L2038.5,182.4 L2039.2,158.1 L2040.0,244.2 L2040.8,147.4 L2041.5,242.1 L2042.3,196.4 L2043.1,163.1 L2043.9,180.0 L2044.6,242.5 L2045.4,233.5 L2046.2,224.5 L2047.0,208.9 L2047.7,163.6 L2048.5,255.9" stroke="#1f77b4" stroke-width="2.3"/>
<path d="M1199.8,217.1 L1201.7,217.1 L1203.6,217.1 L1205.5,217.1 L1207.4,217.1 L1209.3,217.1 L1211.2,217.1 L1213.1,217.1 L1215.0,217.1 L1216.9,217.1 L1218.8,217.1 L1220.7,217.1 L1222.5,217.1 L1224.4,217.1 L1226.3,217.1 L1228.2,217.1 L1230.1,217.1 L1232.0,217.1 L1233.9,217.1 L1235.8,217.1 L1237.7,217.1 L1239.6,217.1 L1241.5,217.1 L1243.4,217.1 L1245.3,217.1 L1247.2,217.1 L1249.1,217.1 L1251.0,217.1 L1252.9,217.1 L1254.8,217.1 L1256.7,217.1 L1258.6,217.1 L1260.5,217.1 L1262.4,217.1 L1264.2,217.1 L1266.1,217.1 L1268.0,217.1 L1269.9,217.1 L1271.8,217.1 L1273.7,217.1 L1275.6,217.1 L1277.5,217.1 L1279.4,217.1 L1281.3,217.1 L1283.2,217.1 L1285.1,217.1 L1287.0,217.1 L1288.9,217.1 L1290.8,217.1 L1292.7,217.1 L1294.6,217.1 L1296.5,217.1 L1298.4,217.1 L1300.3,217.1 L1302.2,217.1 L1304.1,217.1 L1305.9,217.1 L1307.8,217.1 L1309.7,217.1 L1311.6,217.1 L1313.5,217.1 L1315.4,217.1 L1317.3,217.1 L1319.2,217.1 L1321.1,217.1 L1323.0,217.1 L1324.9,217.1 L1326.8,217.1 L1328.7,217.1 L1330.6,217.1 L1332.5,217.1 L1334.4,217.1 L1336.3,217.1 L1338.2,217.1 L1340.1,217.1 L1342.0,217.1 L1343.9,217.1 L1345.8,217.1 L1347.6,217.1 L1349.5,217.1 L1351.4,217.1 L1353.3,217.1 L1355.2,217.1 L1357.1,217.1 L1359.0,217.1 L1360.9,217.1 L1362.8,217.1 L1364.7,217.1 L1366.6,217.1 L1368.5,217.1 L1370.4,217.1 L1372.3,217.1 L1374.2,217.1 L1376.1,217.1 L1378.0,217.1 L1379.9,217.1 L1381.8,217.1 L1383.7,217.1 L1385.6,217.1 L1387.5,217.1 L1389.3,217.1 L1391.2,217.1 L1393.1,217.1 L1395.0,217.1 L1396.9,217.1 L1398.8,217.1 L1400.7,217.1 L1402.6,217.1 L1404.5,217.1 L1406.4,217.1 L1408.3,217.1 L1410.2,217.1 L1412.1,217.1 L1414.0,217.1 L1415.9,217.1 L1417.8,217.1 L1419.7,217.1 L1421.6,217.1 L1423.5,217.1 L1425.4,217.1 L1427.3,217.1 L1429.2,217.1 L1431.0,217.1 L1432.9,217.1 L1434.8,217.1 L1436.7,217.1 L1438.6,217.1 L1440.5,217.1 L1442.4,217.1 L1444.3,217.1 L1446.2,217.1 L1448.1,217.1 L1450.0,217.1 L1451.9,217.1 L1453.8,217.1 L1455.7,217.1 L1457.6,217.1 L1459.5,217.1 L1461.4,217.1 L1463.3,217.1 L1465.2,217.1 L1467.1,217.1 L1469.0,217.1 L1470.9,217.1 L1472.7,217.1 L1474.6,217.1 L1476.5,217.1 L1478.4,217.1 L1480.3,217.1 L1482.2,217.1 L1484.1,217.1 L1486.0,217.1 L1487.9,217.1 L1489.8,217.1 L1491.7,217.1 L1493.6,217.1 L1495.5,217.1 L1497.4,217.1 L1499.3,217.1 L1501.2,217.1 L1503.1,217.1 L1505.0,217.1 L1506.9,217.1 L1508.8,217.1 L1510.7,217.1 L1512.6,217.1 L1514.4,217.1 L1516.3,217.1 L1518.2,217.1 L1520.1,217.1 L1522.0,217.1 L1523.9,217.1 L1525.8,217.1 L1527.7,217.1 L1529.6,217.1 L1531.5,217.1 L1533.4,217.1 L1535.3,217.1 L1537.2,217.1 L1539.1,217.1 L1541.0,217.1 L1542.9,217.1 L1544.8,217.1 L1546.7,217.1 L1548.6,217.1 L1550.5,217.1 L1552.4,217.1 L1554.3,217.1 L1556.1,217.1 L1558.0,217.1 L1559.9,217.1 L1561.8,217.1 L1563.7,217.1 L1565.6,217.1 L1567.5,217.1 L1569.4,217.1 L1571.3,217.1 L1573.2,217.1 L1575.1,217.1 L1577.0,217.1 L1577.1,217.1 L1577.2,217.1 L1577.4,217.1 L1577.5,217.1 L1577.6,217.1 L1577.7,217.1 L1577.8,217.1 L1577.9,217.1 L1578.1,217.1 L1578.2,217.1 L1578.3,217.1 L1578.4,217.1 L1578.5,217.1 L1578.7,217.1 L1578.8,217.1 L1578.9,217.1 L1579.0,217.1 L1579.1,217.1 L1579.2,217.1 L1579.4,217.1 L1579.5,217.1 L1579.6,217.1 L1579.7,217.1 L1579.8,217.1 L1579.9,217.1 L1580.1,217.1 L1580.2,217.1 L1580.3,217.1 L1580.4,217.1 L1580.5,217.1 L1580.7,217.1 L1580.8,217.1 L1580.9,217.1 L1581.0,217.1 L1581.1,217.1 L1581.2,217.1 L1581.4,217.1 L1581.5,217.1 L1581.6,217.1 L1581.7,217.1 L1581.8,217.1 L1582.0,217.1 L1582.1,217.1 L1582.2,217.1 L1582.3,217.1 L1582.4,217.1 L1582.5,217.1 L1582.7,217.1 L1582.8,217.1 L1582.9,217.1 L1583.0,217.1 L1583.1,217.1 L1583.2,217.1 L1583.4,217.1 L1583.5,217.1 L1583.6,217.1 L1583.7,217.1 L1583.8,217.1 L1584.0,217.1 L1584.1,217.1 L1584.2,217.1 L1584.3,217.1 L1584.4,217.1 L1584.5,217.1 L1584.7,217.1 L1584.8,217.1 L1584.9,217.1 L1585.0,217.1 L1585.1,217.1 L1585.3,217.1 L1585.4,217.1 L1585.5,217.1 L1585.6,217.1 L1585.7,217.1 L1585.8,217.1 L1586.0,217.1 L1586.1,217.1 L1586.2,217.1 L1586.3,217.1 L1586.4,217.1 L1586.5,217.1 L1586.7,217.1 L1586.8,217.1 L1586.9,217.1 L1587.0,217.1 L1587.1,217.1 L1587.3,217.1 L1587.4,217.1 L1587.5,217.1 L1587.6,217.1 L1587.7,217.1 L1587.8,217.1 L1588.0,217.1 L1588.1,217.1 L1588.2,217.1 L1588.3,217.1 L1588.4,217.1 L1588.6,217.1 L1588.7,217.1 L1588.8,217.1 L1588.9,217.1 L1589.0,217.1 L1589.1,217.1 L1589.3,217.1 L1589.4,217.1 L1589.5,217.1 L1589.6,217.1 L1589.7,217.1 L1589.8,217.1 L1590.0,217.1 L1590.1,217.1 L1590.2,217.1 L1590.3,217.1 L1590.4,217.1 L1590.6,217.1 L1590.7,217.1 L1590.8,217.1 L1590.9,217.1 L1591.0,217.1 L1591.1,217.1 L1591.3,217.1 L1591.4,217.1 L1591.5,217.1 L1591.6,217.1 L1591.7,217.1 L1591.9,217.1 L1592.0,217.1 L1592.1,217.1 L1592.2,217.1 L1592.3,217.1 L1592.4,217.1 L1592.6,217.1 L1592.7,217.1 L1592.8,217.1 L1592.9,217.1 L1593.0,217.1 L1593.1,217.1 L1593.3,217.1 L1593.4,217.1 L1593.5,217.1 L1593.6,217.1 L1593.7,217.1 L1593.9,217.1 L1594.0,217.1 L1594.1,217.1 L1594.2,217.1 L1594.3,217.1 L1594.4,217.1 L1594.6,217.1 L1594.7,217.1 L1594.8,217.1 L1594.9,217.1 L1595.0,217.1 L1595.2,217.1 L1595.3,217.1 L1595.4,217.1 L1595.5,217.1 L1595.6,217.1 L1595.7,217.1 L1595.9,217.1 L1596.0,217.2 L1596.1,217.2 L1596.2,217.2 L1596.3,217.2 L1596.4,217.2 L1596.6,217.2 L1596.7,217.2 L1596.8,217.2 L1596.9,217.2 L1597.0,217.2 L1597.2,217.2 L1597.3,217.2 L1597.4,217.2 L1597.5,217.2 L1597.6,217.2 L1597.7,217.2 L1597.9,217.2 L1598.0,217.2 L1598.1,217.2 L1598.2,217.2 L1598.3,217.2 L1598.5,217.2 L1598.6,217.2 L1598.7,217.2 L1598.8,217.2 L1598.9,217.2 L1599.0,217.2 L1599.2,217.2 L1599.3,217.2 L1599.4,217.2 L1599.5,217.2 L1599.6,217.3 L1599.7,217.3 L1599.9,217.3 L1600.0,217.3 L1600.1,217.3 L1600.2,217.3 L1600.3,217.3 L1600.5,217.3 L1600.6,217.3 L1600.7,217.3 L1600.8,217.4 L1600.9,217.4 L1601.0,217.4 L1601.2,217.4 L1601.3,217.4 L1601.4,217.4 L1601.5,217.5 L1601.6,217.5 L1601.8,217.5 L1601.9,217.5 L1602.0,217.6 L1602.1,217.6 L1602.2,217.6 L1602.3,217.6 L1602.5,217.7 L1602.6,217.7 L1602.7,217.7 L1602.8,217.8 L1602.9,217.8 L1603.1,217.9 L1603.2,217.9 L1603.3,217.9 L1603.4,218.0 L1603.5,218.0 L1603.6,218.1 L1603.8,218.1 L1603.9,218.2 L1604.0,218.3 L1604.1,218.3 L1604.2,218.4 L1604.3,218.5 L1604.5,218.5 L1604.6,218.6 L1604.7,218.7 L1604.8,218.8 L1604.9,218.9 L1605.1,219.0 L1605.2,219.0 L1605.3,219.1 L1605.4,219.2 L1605.5,219.4 L1605.6,219.5 L1605.8,219.6 L1605.9,219.7 L1606.0,219.8 L1606.1,220.0 L1606.2,220.1 L1606.4,220.3 L1606.5,220.4 L1606.6,220.6 L1606.7,220.7 L1606.8,220.9 L1606.9,221.1 L1607.1,221.3 L1607.2,221.5 L1607.3,221.7 L1607.4,221.9 L1607.5,222.1 L1607.6,222.3 L1607.8,222.5 L1607.9,222.8 L1608.0,223.0 L1608.1,223.3 L1608.2,223.6 L1608.4,223.8 L1608.5,224.1 L1608.6,224.4 L1608.7,224.7 L1608.8,225.1 L1608.9,225.4 L1609.1,225.7 L1609.2,226.1 L1609.3,226.5 L1609.4,226.8 L1609.5,227.2 L1609.7,227.6 L1609.8,228.1 L1609.9,228.5 L1610.0,228.9 L1610.1,229.4 L1610.2,229.9 L1610.4,230.4 L1610.5,230.9 L1610.6,231.4 L1610.7,231.9 L1610.8,232.5 L1610.9,233.1 L1611.1,233.6 L1611.2,234.3 L1611.3,234.9 L1611.4,235.5 L1611.5,236.2 L1611.7,236.9 L1611.8,237.6 L1611.9,238.3 L1612.0,239.0 L1612.1,239.8 L1612.2,240.6 L1612.4,241.4 L1612.5,242.2 L1612.6,243.0 L1612.7,243.9 L1612.8,244.8 L1613.0,245.7 L1613.1,246.7 L1613.2,247.7 L1613.3,248.6 L1613.4,249.7 L1613.5,250.7 L1613.7,251.8 L1613.8,252.9 L1613.9,254.0 L1614.0,255.2 L1614.1,256.4 L1614.2,257.6 L1614.4,258.8 L1614.5,260.1 L1614.6,261.4 L1614.7,262.7 L1614.8,264.1 L1615.0,265.5 L1615.1,267.0 L1615.2,268.4 L1615.3,269.9 L1615.4,271.5 L1615.5,273.1 L1615.7,274.7 L1615.8,276.3 L1615.9,278.0 L1616.0,279.8 L1616.1,281.5 L1616.3,283.3 L1616.4,285.2 L1616.5,287.1 L1616.6,289.0 L1616.7,291.0 L1616.8,293.0 L1617.0,295.1 L1617.1,297.2 L1617.2,299.3 L1617.3,301.5 L1617.4,303.8 L1617.5,306.1 L1617.7,308.4 L1617.8,310.8 L1617.9,313.3 L1618.0,315.8 L1618.1,318.4 L1618.3,321.0 L1618.4,323.7 L1618.5,326.4 L1618.6,329.2 L1618.7,332.0 L1618.8,334.9 L1619.0,337.9 L1619.1,340.9 L1619.2,344.0 L1619.3,347.2 L1619.4,350.4 L1619.6,353.7 L1619.7,357.1 L1619.8,360.5 L1619.9,364.0 L1620.0,367.6 L1620.1,371.3 L1620.3,375.0 L1620.4,378.8 L1620.5,382.7 L1620.6,386.7 L1620.7,390.8 L1620.8,394.9 L1621.0,399.1 L1621.1,403.5 L1621.2,407.9 L1621.3,412.4 L1621.4,417.0 L1621.6,421.7 L1621.7,426.5 L1621.8,431.4 L1621.9,436.5 L1622.0,441.6 L1622.1,446.8 L1622.3,452.2 L1622.4,457.6 L1622.5,463.2 L1622.6,468.9 L1622.7,474.8 L1622.9,480.7 L1623.0,486.8 L1623.1,493.0 L1623.2,499.4 L1623.3,505.9 L1623.4,512.6 L1623.6,519.4 L1623.7,526.3 L1623.8,533.4 L1623.9,540.7 L1624.0,548.1 L1624.2,555.7 L1624.3,547.0 L1624.4,538.4 L1624.5,530.0 L1624.6,521.9 L1624.7,514.0 L1624.9,506.3 L1625.0,498.7 L1625.1,491.4 L1625.2,484.3 L1625.3,477.3 L1625.4,470.5 L1625.6,463.9 L1625.7,457.5 L1625.8,451.2 L1625.9,445.0 L1626.0,439.1 L1626.2,433.2 L1626.3,427.5 L1626.4,422.0 L1626.5,416.6 L1626.6,411.3 L1626.7,406.2 L1626.9,401.2 L1627.0,396.3 L1627.1,391.5 L1627.2,386.9 L1627.3,382.3 L1627.5,377.9 L1627.6,373.6 L1627.7,369.4 L1627.8,365.3 L1627.9,361.3 L1628.0,357.4 L1628.2,353.6 L1628.3,349.8 L1628.4,346.2 L1628.5,342.7 L1628.6,339.2 L1628.7,335.9 L1628.9,332.6 L1629.0,329.4 L1629.1,326.3 L1629.2,323.2 L1629.3,320.3 L1629.5,317.4 L1629.6,314.5 L1629.7,311.8 L1629.8,309.1 L1629.9,306.5 L1630.0,303.9 L1630.2,301.4 L1630.3,299.0 L1630.4,296.6 L1630.5,294.3 L1630.6,292.1 L1630.8,289.9 L1630.9,287.8 L1631.0,285.7 L1631.1,283.7 L1631.2,281.7 L1631.3,279.7 L1631.5,277.9 L1631.6,276.0 L1631.7,274.3 L1631.8,272.5 L1631.9,270.8 L1632.0,269.2 L1632.2,267.6 L1632.3,266.0 L1632.4,264.5 L1632.5,263.0 L1632.6,261.6 L1632.8,260.2 L1632.9,258.8 L1633.0,257.5 L1633.1,256.2 L1633.2,254.9 L1633.3,253.7 L1633.5,252.5 L1633.6,251.4 L1633.7,250.2 L1633.8,249.1 L1633.9,248.1 L1634.1,247.1 L1634.2,246.1 L1634.3,245.1 L1634.4,244.1 L1634.5,243.2 L1634.6,242.3 L1634.8,241.4 L1634.9,240.6 L1635.0,239.8 L1635.1,239.0 L1635.2,238.2 L1635.3,237.5 L1635.5,236.8 L1635.6,236.0 L1635.7,235.4 L1635.8,234.7 L1635.9,234.1 L1636.1,233.4 L1636.2,232.8 L1636.3,232.3 L1636.4,231.7 L1636.5,231.2 L1636.6,230.6 L1636.8,230.1 L1636.9,229.6 L1637.0,229.1 L1637.1,228.7 L1637.2,228.2 L1637.4,227.8 L1637.5,227.4 L1637.6,227.0 L1637.7,226.6 L1637.8,226.2 L1637.9,225.8 L1638.1,225.5 L1638.2,225.1 L1638.3,224.8 L1638.4,224.5 L1638.5,224.2 L1638.6,223.9 L1638.8,223.6 L1638.9,223.3 L1639.0,223.1 L1639.1,222.8 L1639.2,222.6 L1639.4,222.3 L1639.5,222.1 L1639.6,221.9 L1639.7,221.7 L1639.8,221.5 L1639.9,221.3 L1640.1,221.1 L1640.2,220.9 L1640.3,220.7 L1640.4,220.6 L1640.5,220.4 L1640.7,220.3 L1640.8,220.1 L1640.9,220.0 L1641.0,219.8 L1641.1,219.7 L1641.2,219.6 L1641.4,219.5 L1641.5,219.4 L1641.6,219.3 L1641.7,219.2 L1641.8,219.1 L1641.9,219.0 L1642.1,218.9 L1642.2,218.8 L1642.3,218.7 L1642.4,218.6 L1642.5,218.5 L1642.7,218.5 L1642.8,218.4 L1642.9,218.3 L1643.0,218.3 L1643.1,218.2 L1643.2,218.2 L1643.4,218.1 L1643.5,218.0 L1643.6,218.0 L1643.7,218.0 L1643.8,217.9 L1644.0,217.9 L1644.1,217.8 L1644.2,217.8 L1644.3,217.7 L1644.4,217.7 L1644.5,217.7 L1644.7,217.6 L1644.8,217.6 L1644.9,217.6 L1645.0,217.6 L1645.1,217.5 L1645.2,217.5 L1645.4,217.5 L1645.5,217.5 L1645.6,217.5 L1645.7,217.4 L1645.8,217.4 L1646.0,217.4 L1646.1,217.4 L1646.2,217.4 L1646.3,217.4 L1646.4,217.3 L1646.5,217.3 L1646.7,217.3 L1646.8,217.3 L1646.9,217.3 L1647.0,217.3 L1647.1,217.3 L1647.3,217.3 L1647.4,217.3 L1647.5,217.2 L1647.6,217.2 L1647.7,217.2 L1647.8,217.2 L1648.0,217.2 L1648.1,217.2 L1648.2,217.2 L1648.3,217.2 L1648.4,217.2 L1648.6,217.2 L1648.7,217.2 L1648.8,217.2 L1648.9,217.2 L1649.0,217.2 L1649.1,217.2 L1649.3,217.2 L1649.4,217.2 L1649.5,217.2 L1649.6,217.2 L1649.7,217.2 L1649.8,217.2 L1650.0,217.2 L1650.1,217.2 L1650.2,217.2 L1650.3,217.2 L1650.4,217.2 L1650.6,217.2 L1650.7,217.2 L1650.8,217.2 L1650.9,217.2 L1651.0,217.2 L1651.1,217.2 L1651.3,217.1 L1651.4,217.1 L1651.5,217.1 L1651.6,217.1 L1651.7,217.1 L1651.9,217.1 L1652.0,217.1 L1652.1,217.1 L1652.2,217.1 L1652.3,217.1 L1652.4,217.1 L1652.6,217.1 L1652.7,217.1 L1652.8,217.1 L1652.9,217.1 L1653.0,217.1 L1653.1,217.1 L1653.3,217.1 L1653.4,217.1 L1653.5,217.1 L1653.6,217.1 L1653.7,217.1 L1653.9,217.1 L1654.0,217.1 L1654.1,217.1 L1654.2,217.1 L1654.3,217.1 L1654.4,217.1 L1654.6,217.1 L1654.7,217.1 L1654.8,217.1 L1654.9,217.1 L1655.0,217.1 L1655.2,217.1 L1655.3,217.1 L1655.4,217.1 L1655.5,217.1 L1655.6,217.1 L1655.7,217.1 L1655.9,217.1 L1656.0,217.1 L1656.1,217.1 L1656.2,217.1 L1656.3,217.1 L1656.4,217.1 L1656.6,217.1 L1656.7,217.1 L1656.8,217.1 L1656.9,217.1 L1657.0,217.1 L1657.2,217.1 L1657.3,217.1 L1657.4,217.1 L1657.5,217.1 L1657.6,217.1 L1657.7,217.1 L1657.9,217.1 L1658.0,217.1 L1658.1,217.1 L1658.2,217.1 L1658.3,217.1 L1658.5,217.1 L1658.6,217.1 L1658.7,217.1 L1658.8,217.1 L1658.9,217.1 L1659.0,217.1 L1659.2,217.1 L1659.3,217.1 L1659.4,217.1 L1659.5,217.1 L1659.6,217.1 L1659.7,217.1 L1659.9,217.1 L1660.0,217.1 L1660.1,217.1 L1660.2,217.1 L1660.3,217.1 L1660.5,217.1 L1660.6,217.1 L1660.7,217.1 L1660.8,217.1 L1660.9,217.1 L1661.0,217.1 L1661.2,217.1 L1661.3,217.1 L1661.4,217.1 L1661.5,217.1 L1661.6,217.1 L1661.8,217.1 L1661.9,217.1 L1662.0,217.1 L1662.1,217.1 L1662.2,217.1 L1662.3,217.1 L1662.5,217.1 L1662.6,217.1 L1662.7,217.1 L1662.8,217.1 L1662.9,217.1 L1663.0,217.1 L1663.2,217.1 L1663.3,217.1 L1663.4,217.1 L1663.5,217.1 L1663.6,217.1 L1663.8,217.1 L1663.9,217.1 L1664.0,217.1 L1664.1,217.1 L1664.2,217.1 L1664.3,217.1 L1664.5,217.1 L1664.6,217.1 L1664.7,217.1 L1664.8,217.1 L1664.9,217.1 L1665.1,217.1 L1665.2,217.1 L1665.3,217.1 L1665.4,217.1 L1665.5,217.1 L1665.6,217.1 L1665.8,217.1 L1665.9,217.1 L1666.0,217.1 L1666.1,217.1 L1666.2,217.1 L1666.3,217.1 L1666.5,217.1 L1666.6,217.1 L1666.7,217.1 L1666.8,217.1 L1666.9,217.1 L1667.1,217.1 L1667.2,217.1 L1667.3,217.1 L1667.4,217.1 L1667.5,217.1 L1667.6,217.1 L1667.8,217.1 L1667.9,217.1 L1668.0,217.1 L1668.1,217.1 L1668.2,217.1 L1668.4,217.1 L1668.5,217.1 L1668.6,217.1 L1668.7,217.1 L1668.8,217.1 L1668.9,217.1 L1669.1,217.1 L1669.2,217.1 L1669.3,217.1 L1669.4,217.1 L1669.5,217.1 L1669.6,217.1 L1669.8,217.1 L1669.9,217.1 L1670.0,217.1 L1670.1,217.1 L1670.2,217.1 L1670.4,217.1 L1670.5,217.1 L1670.6,217.1 L1670.7,217.1 L1670.8,217.1 L1670.9,217.1 L1671.1,217.1 L1671.2,217.1 L1671.3,217.1 L1673.2,217.1 L1675.1,217.1 L1677.0,217.1 L1678.9,217.1 L1680.8,217.1 L1682.7,217.1 L1684.6,217.1 L1686.5,217.1 L1688.4,217.1 L1690.3,217.1 L1692.2,217.1 L1694.0,217.1 L1695.9,217.1 L1697.8,217.1 L1699.7,217.1 L1701.6,217.1 L1703.5,217.1 L1705.4,217.1 L1707.3,217.1 L1709.2,217.1 L1711.1,217.1 L1713.0,217.1 L1714.9,217.1 L1716.8,217.1 L1718.7,217.1 L1720.6,217.1 L1722.5,217.1 L1724.4,217.1 L1726.3,217.1 L1728.2,217.1 L1730.1,217.1 L1732.0,217.1 L1733.9,217.1 L1735.7,217.1 L1737.6,217.1 L1739.5,217.1 L1741.4,217.1 L1743.3,217.1 L1745.2,217.1 L1747.1,217.1 L1749.0,217.1 L1750.9,217.1 L1752.8,217.1 L1754.7,217.1 L1756.6,217.1 L1758.5,217.1 L1760.4,217.1 L1762.3,217.1 L1764.2,217.1 L1766.1,217.1 L1768.0,217.1 L1769.9,217.1 L1771.8,217.1 L1773.7,217.1 L1775.6,217.1 L1777.4,217.1 L1779.3,217.1 L1781.2,217.1 L1783.1,217.1 L1785.0,217.1 L1786.9,217.1 L1788.8,217.1 L1790.7,217.1 L1792.6,217.1 L1794.5,217.1 L1796.4,217.1 L1798.3,217.1 L1800.2,217.1 L1802.1,217.1 L1804.0,217.1 L1805.9,217.1 L1807.8,217.1 L1809.7,217.1 L1811.6,217.1 L1813.5,217.1 L1815.4,217.1 L1817.3,217.1 L1819.1,217.1 L1821.0,217.1 L1822.9,217.1 L1824.8,217.1 L1826.7,217.1 L1828.6,217.1 L1830.5,217.1 L1832.4,217.1 L1834.3,217.1 L1836.2,217.1 L1838.1,217.1 L1840.0,217.1 L1841.9,217.1 L1843.8,217.1 L1845.7,217.1 L1847.6,217.1 L1849.5,217.1 L1851.4,217.1 L1853.3,217.1 L1855.2,217.1 L1857.1,217.1 L1859.0,217.1 L1860.8,217.1 L1862.7,217.1 L1864.6,217.1 L1866.5,217.1 L1868.4,217.1 L1870.3,217.1 L1872.2,217.1 L1874.1,217.1 L1876.0,217.1 L1877.9,217.1 L1879.8,217.1 L1881.7,217.1 L1883.6,217.1 L1885.5,217.1 L1887.4,217.1 L1889.3,217.1 L1891.2,217.1 L1893.1,217.1 L1895.0,217.1 L1896.9,217.1 L1898.8,217.1 L1900.7,217.1 L1902.5,217.1 L1904.4,217.1 L1906.3,217.1 L1908.2,217.1 L1910.1,217.1 L1912.0,217.1 L1913.9,217.1 L1915.8,217.1 L1917.7,217.1 L1919.6,217.1 L1921.5,217.1 L1923.4,217.1 L1925.3,217.1 L1927.2,217.1 L1929.1,217.1 L1931.0,217.1 L1932.9,217.1 L1934.8,217.1 L1936.7,217.1 L1938.6,217.1 L1940.5,217.1 L1942.4,217.1 L1944.2,217.1 L1946.1,217.1 L1948.0,217.1 L1949.9,217.1 L1951.8,217.1 L1953.7,217.1 L1955.6,217.1 L1957.5,217.1 L1959.4,217.1 L1961.3,217.1 L1963.2,217.1 L1965.1,217.1 L1967.0,217.1 L1968.9,217.1 L1970.8,217.1 L1972.7,217.1 L1974.6,217.1 L1976.5,217.1 L1978.4,217.1 L1980.3,217.1 L1982.2,217.1 L1984.1,217.1 L1985.9,217.1 L1987.8,217.1 L1989.7,217.1 L1991.6,217.1 L1993.5,217.1 L1995.4,217.1 L1997.3,217.1 L1999.2,217.1 L2001.1,217.1 L2003.0,217.1 L2004.9,217.1 L2006.8,217.1 L2008.7,217.1 L2010.6,217.1 L2012.5,217.1 L2014.4,217.1 L2016.3,217.1 L2018.2,217.1 L2020.1,217.1 L2022.0,217.1 L2023.9,217.1 L2025.8,217.1 L2027.6,217.1 L2029.5,217.1 L2031.4,217.1 L2033.3,217.1 L2035.2,217.1 L2037.1,217.1 L2039.0,217.1 L2040.9,217.1 L2042.8,217.1 L2044.7,217.1 L2046.6,217.1 L2048.5,217.1" stroke="#ff7f0e" stroke-width="3.5"/>
<path d="M1199.8,213.3 L1201.7,213.3 L1203.6,213.2 L1205.5,213.2 L1207.4,213.2 L1209.3,213.1 L1211.2,213.1 L1213.1,213.0 L1215.0,213.0 L1216.9,213.0 L1218.8,212.9 L1220.7,212.9 L1222.5,212.9 L1224.4,212.8 L1226.3,212.8 L1228.2,212.7 L1230.1,212.7 L1232.0,212.7 L1233.9,212.6 L1235.8,212.6 L1237.7,212.5 L1239.6,212.5 L1241.5,212.4 L1243.4,212.4 L1245.3,212.4 L1247.2,212.3 L1249.1,212.3 L1251.0,212.2 L1252.9,212.2 L1254.8,212.1 L1256.7,212.1 L1258.6,212.0 L1260.5,212.0 L1262.4,211.9 L1264.2,211.9 L1266.1,211.8 L1268.0,211.8 L1269.9,211.7 L1271.8,211.7 L1273.7,211.6 L1275.6,211.6 L1277.5,211.5 L1279.4,211.5 L1281.3,211.4 L1283.2,211.3 L1285.1,211.3 L1287.0,211.2 L1288.9,211.2 L1290.8,211.1 L1292.7,211.1 L1294.6,211.0 L1296.5,210.9 L1298.4,210.9 L1300.3,210.8 L1302.2,210.7 L1304.1,210.7 L1305.9,210.6 L1307.8,210.5 L1309.7,210.5 L1311.6,210.4 L1313.5,210.3 L1315.4,210.3 L1317.3,210.2 L1319.2,210.1 L1321.1,210.1 L1323.0,210.0 L1324.9,209.9 L1326.8,209.8 L1328.7,209.8 L1330.6,209.7 L1332.5,209.6 L1334.4,209.5 L1336.3,209.5 L1338.2,209.4 L1340.1,209.3 L1342.0,209.2 L1343.9,209.1 L1345.8,209.1 L1347.6,209.0 L1349.5,208.9 L1351.4,208.8 L1353.3,208.7 L1355.2,208.6 L1357.1,208.5 L1359.0,208.4 L1360.9,208.4 L1362.8,208.3 L1364.7,208.2 L1366.6,208.1 L1368.5,208.0 L1370.4,207.9 L1372.3,207.8 L1374.2,207.7 L1376.1,207.6 L1378.0,207.5 L1379.9,207.4 L1381.8,207.3 L1383.7,207.2 L1385.6,207.1 L1387.5,206.9 L1389.3,206.8 L1391.2,206.7 L1393.1,206.6 L1395.0,206.5 L1396.9,206.4 L1398.8,206.3 L1400.7,206.2 L1402.6,206.0 L1404.5,205.9 L1406.4,205.8 L1408.3,205.7 L1410.2,205.5 L1412.1,205.4 L1414.0,205.3 L1415.9,205.2 L1417.8,205.0 L1419.7,204.9 L1421.6,204.8 L1423.5,204.6 L1425.4,204.5 L1427.3,204.4 L1429.2,204.2 L1431.0,204.1 L1432.9,203.9 L1434.8,203.8 L1436.7,203.6 L1438.6,203.5 L1440.5,203.3 L1442.4,203.2 L1444.3,203.0 L1446.2,202.9 L1448.1,202.7 L1450.0,202.6 L1451.9,202.4 L1453.8,202.2 L1455.7,202.1 L1457.6,201.9 L1459.5,201.7 L1461.4,201.6 L1463.3,201.4 L1465.2,201.2 L1467.1,201.0 L1469.0,200.9 L1470.9,200.7 L1472.7,200.5 L1474.6,200.3 L1476.5,200.1 L1478.4,199.9 L1480.3,199.7 L1482.2,199.5 L1484.1,199.3 L1486.0,199.1 L1487.9,198.9 L1489.8,198.7 L1491.7,198.5 L1493.6,198.3 L1495.5,198.1 L1497.4,197.9 L1499.3,197.7 L1501.2,197.5 L1503.1,197.2 L1505.0,197.0 L1506.9,196.8 L1508.8,196.6 L1510.7,196.3 L1512.6,196.1 L1514.4,195.8 L1516.3,195.6 L1518.2,195.4 L1520.1,195.1 L1522.0,194.9 L1523.9,194.6 L1525.8,194.4 L1527.7,194.1 L1529.6,193.8 L1531.5,193.6 L1533.4,193.3 L1535.3,193.0 L1537.2,192.8 L1539.1,192.5 L1541.0,192.2 L1542.9,191.9 L1544.8,191.6 L1546.7,191.3 L1548.6,191.0 L1550.5,190.7 L1552.4,190.4 L1554.3,190.1 L1556.1,189.8 L1558.0,189.5 L1559.9,189.2 L1561.8,188.9 L1563.7,188.5 L1565.6,188.2 L1567.5,187.9 L1569.4,187.5 L1571.3,187.2 L1573.2,186.9 L1575.1,186.5 L1577.0,186.2 L1577.1,186.1 L1577.2,186.1 L1577.4,186.1 L1577.5,186.1 L1577.6,186.0 L1577.7,186.0 L1577.8,186.0 L1577.9,186.0 L1578.1,186.0 L1578.2,185.9 L1578.3,185.9 L1578.4,185.9 L1578.5,185.9 L1578.7,185.8 L1578.8,185.8 L1578.9,185.8 L1579.0,185.8 L1579.1,185.8 L1579.2,185.7 L1579.4,185.7 L1579.5,185.7 L1579.6,185.7 L1579.7,185.6 L1579.8,185.6 L1579.9,185.6 L1580.1,185.6 L1580.2,185.6 L1580.3,185.5 L1580.4,185.5 L1580.5,185.5 L1580.7,185.5 L1580.8,185.4 L1580.9,185.4 L1581.0,185.4 L1581.1,185.4 L1581.2,185.4 L1581.4,185.3 L1581.5,185.3 L1581.6,185.3 L1581.7,185.3 L1581.8,185.2 L1582.0,185.2 L1582.1,185.2 L1582.2,185.2 L1582.3,185.1 L1582.4,185.1 L1582.5,185.1 L1582.7,185.1 L1582.8,185.1 L1582.9,185.0 L1583.0,185.0 L1583.1,185.0 L1583.2,185.0 L1583.4,184.9 L1583.5,184.9 L1583.6,184.9 L1583.7,184.9 L1583.8,184.9 L1584.0,184.8 L1584.1,184.8 L1584.2,184.8 L1584.3,184.8 L1584.4,184.7 L1584.5,184.7 L1584.7,184.7 L1584.8,184.7 L1584.9,184.6 L1585.0,184.6 L1585.1,184.6 L1585.3,184.6 L1585.4,184.6 L1585.5,184.5 L1585.6,184.5 L1585.7,184.5 L1585.8,184.5 L1586.0,184.4 L1586.1,184.4 L1586.2,184.4 L1586.3,184.4 L1586.4,184.3 L1586.5,184.3 L1586.7,184.3 L1586.8,184.3 L1586.9,184.3 L1587.0,184.2 L1587.1,184.2 L1587.3,184.2 L1587.4,184.2 L1587.5,184.1 L1587.6,184.1 L1587.7,184.1 L1587.8,184.1 L1588.0,184.0 L1588.1,184.0 L1588.2,184.0 L1588.3,184.0 L1588.4,184.0 L1588.6,183.9 L1588.7,183.9 L1588.8,183.9 L1588.9,183.9 L1589.0,183.8 L1589.1,183.8 L1589.3,183.8 L1589.4,183.8 L1589.5,183.8 L1589.6,183.7 L1589.7,183.7 L1589.8,183.7 L1590.0,183.7 L1590.1,183.6 L1590.2,183.6 L1590.3,183.6 L1590.4,183.6 L1590.6,183.6 L1590.7,183.5 L1590.8,183.5 L1590.9,183.5 L1591.0,183.5 L1591.1,183.5 L1591.3,183.4 L1591.4,183.4 L1591.5,183.4 L1591.6,183.4 L1591.7,183.4 L1591.9,183.3 L1592.0,183.3 L1592.1,183.3 L1592.2,183.3 L1592.3,183.3 L1592.4,183.3 L1592.6,183.2 L1592.7,183.2 L1592.8,183.2 L1592.9,183.2 L1593.0,183.2 L1593.1,183.2 L1593.3,183.1 L1593.4,183.1 L1593.5,183.1 L1593.6,183.1 L1593.7,183.1 L1593.9,183.1 L1594.0,183.1 L1594.1,183.0 L1594.2,183.0 L1594.3,183.0 L1594.4,183.0 L1594.6,183.0 L1594.7,183.0 L1594.8,183.0 L1594.9,183.0 L1595.0,183.0 L1595.2,183.0 L1595.3,183.0 L1595.4,183.0 L1595.5,183.0 L1595.6,183.0 L1595.7,183.0 L1595.9,183.0 L1596.0,183.0 L1596.1,183.0 L1596.2,183.0 L1596.3,183.0 L1596.4,183.0 L1596.6,183.0 L1596.7,183.0 L1596.8,183.0 L1596.9,183.0 L1597.0,183.0 L1597.2,183.0 L1597.3,183.0 L1597.4,183.1 L1597.5,183.1 L1597.6,183.1 L1597.7,183.1 L1597.9,183.1 L1598.0,183.2 L1598.1,183.2 L1598.2,183.2 L1598.3,183.3 L1598.5,183.3 L1598.6,183.3 L1598.7,183.4 L1598.8,183.4 L1598.9,183.5 L1599.0,183.5 L1599.2,183.5 L1599.3,183.6 L1599.4,183.6 L1599.5,183.7 L1599.6,183.8 L1599.7,183.8 L1599.9,183.9 L1600.0,184.0 L1600.1,184.0 L1600.2,184.1 L1600.3,184.2 L1600.5,184.3 L1600.6,184.3 L1600.7,184.4 L1600.8,184.5 L1600.9,184.6 L1601.0,184.7 L1601.2,184.8 L1601.3,184.9 L1601.4,185.0 L1601.5,185.1 L1601.6,185.3 L1601.8,185.4 L1601.9,185.5 L1602.0,185.6 L1602.1,185.8 L1602.2,185.9 L1602.3,186.1 L1602.5,186.2 L1602.6,186.4 L1602.7,186.5 L1602.8,186.7 L1602.9,186.9 L1603.1,187.1 L1603.2,187.3 L1603.3,187.4 L1603.4,187.6 L1603.5,187.8 L1603.6,188.1 L1603.8,188.3 L1603.9,188.5 L1604.0,188.7 L1604.1,189.0 L1604.2,189.2 L1604.3,189.5 L1604.5,189.7 L1604.6,190.0 L1604.7,190.3 L1604.8,190.6 L1604.9,190.8 L1605.1,191.1 L1605.2,191.5 L1605.3,191.8 L1605.4,192.1 L1605.5,192.4 L1605.6,192.8 L1605.8,193.1 L1605.9,193.5 L1606.0,193.8 L1606.1,194.2 L1606.2,194.6 L1606.4,195.0 L1606.5,195.4 L1606.6,195.8 L1606.7,196.3 L1606.8,196.7 L1606.9,197.2 L1607.1,197.6 L1607.2,198.1 L1607.3,198.6 L1607.4,199.1 L1607.5,199.6 L1607.6,200.1 L1607.8,200.7 L1607.9,201.2 L1608.0,201.8 L1608.1,202.3 L1608.2,202.9 L1608.4,203.5 L1608.5,204.1 L1608.6,204.8 L1608.7,205.4 L1608.8,206.0 L1608.9,206.7 L1609.1,207.4 L1609.2,208.1 L1609.3,208.8 L1609.4,209.5 L1609.5,210.3 L1609.7,211.0 L1609.8,211.8 L1609.9,212.6 L1610.0,213.4 L1610.1,214.2 L1610.2,215.0 L1610.4,215.9 L1610.5,216.8 L1610.6,217.7 L1610.7,218.6 L1610.8,219.5 L1610.9,220.4 L1611.1,221.4 L1611.2,222.4 L1611.3,223.4 L1611.4,224.4 L1611.5,225.4 L1611.7,226.5 L1611.8,227.6 L1611.9,228.7 L1612.0,229.8 L1612.1,230.9 L1612.2,232.1 L1612.4,233.3 L1612.5,234.5 L1612.6,235.7 L1612.7,237.0 L1612.8,238.2 L1613.0,239.5 L1613.1,240.8 L1613.2,242.2 L1613.3,243.5 L1613.4,244.9 L1613.5,246.3 L1613.7,247.8 L1613.8,249.2 L1613.9,250.7 L1614.0,252.2 L1614.1,253.8 L1614.2,255.3 L1614.4,256.9 L1614.5,258.6 L1614.6,260.2 L1614.7,261.9 L1614.8,263.6 L1615.0,265.3 L1615.1,267.1 L1615.2,268.9 L1615.3,270.7 L1615.4,272.6 L1615.5,274.4 L1615.7,276.4 L1615.8,278.3 L1615.9,280.3 L1616.0,282.3 L1616.1,284.3 L1616.3,286.4 L1616.4,288.5 L1616.5,290.7 L1616.6,292.8 L1616.7,295.1 L1616.8,297.3 L1617.0,299.6 L1617.1,301.9 L1617.2,304.3 L1617.3,306.7 L1617.4,309.1 L1617.5,311.6 L1617.7,314.1 L1617.8,316.7 L1617.9,319.3 L1618.0,321.9 L1618.1,324.6 L1618.3,327.4 L1618.4,330.1 L1618.5,332.9 L1618.6,335.8 L1618.7,338.7 L1618.8,341.7 L1619.0,344.7 L1619.1,347.7 L1619.2,350.8 L1619.3,354.0 L1619.4,357.2 L1619.6,360.4 L1619.7,363.7 L1619.8,367.1 L1619.9,370.5 L1620.0,374.0 L1620.1,377.5 L1620.3,381.1 L1620.4,384.7 L1620.5,388.4 L1620.6,392.1 L1620.7,395.9 L1620.8,399.8 L1621.0,403.8 L1621.1,407.8 L1621.2,411.8 L1621.3,416.0 L1621.4,420.2 L1621.6,424.4 L1621.7,428.8 L1621.8,433.2 L1621.9,437.7 L1622.0,442.2 L1622.1,446.9 L1622.3,451.6 L1622.4,456.4 L1622.5,461.3 L1622.6,466.2 L1622.7,471.3 L1622.9,476.4 L1623.0,481.6 L1623.1,486.9 L1623.2,492.3 L1623.3,497.7 L1623.4,503.3 L1623.6,509.0 L1623.7,514.7 L1623.8,520.6 L1623.9,526.6 L1624.0,532.6 L1624.2,538.8 L1624.3,531.4 L1624.4,524.1 L1624.5,516.9 L1624.6,509.9 L1624.7,503.1 L1624.9,496.3 L1625.0,489.8 L1625.1,483.3 L1625.2,477.0 L1625.3,470.8 L1625.4,464.8 L1625.6,458.8 L1625.7,453.0 L1625.8,447.3 L1625.9,441.7 L1626.0,436.3 L1626.2,430.9 L1626.3,425.7 L1626.4,420.5 L1626.5,415.5 L1626.6,410.6 L1626.7,405.7 L1626.9,401.0 L1627.0,396.3 L1627.1,391.8 L1627.2,387.3 L1627.3,383.0 L1627.5,378.7 L1627.6,374.5 L1627.7,370.4 L1627.8,366.3 L1627.9,362.4 L1628.0,358.5 L1628.2,354.7 L1628.3,351.0 L1628.4,347.4 L1628.5,343.8 L1628.6,340.3 L1628.7,336.9 L1628.9,333.5 L1629.0,330.2 L1629.1,327.0 L1629.2,323.9 L1629.3,320.8 L1629.5,317.7 L1629.6,314.7 L1629.7,311.8 L1629.8,309.0 L1629.9,306.2 L1630.0,303.4 L1630.2,300.7 L1630.3,298.1 L1630.4,295.5 L1630.5,293.0 L1630.6,290.5 L1630.8,288.1 L1630.9,285.7 L1631.0,283.4 L1631.1,281.1 L1631.2,278.8 L1631.3,276.7 L1631.5,274.5 L1631.6,272.4 L1631.7,270.3 L1631.8,268.3 L1631.9,266.3 L1632.0,264.4 L1632.2,262.5 L1632.3,260.6 L1632.4,258.8 L1632.5,257.0 L1632.6,255.3 L1632.8,253.5 L1632.9,251.9 L1633.0,250.2 L1633.1,248.6 L1633.2,247.0 L1633.3,245.5 L1633.5,244.0 L1633.6,242.5 L1633.7,241.0 L1633.8,239.6 L1633.9,238.2 L1634.1,236.9 L1634.2,235.5 L1634.3,234.2 L1634.4,233.0 L1634.5,231.7 L1634.6,230.5 L1634.8,229.3 L1634.9,228.1 L1635.0,227.0 L1635.1,225.8 L1635.2,224.7 L1635.3,223.7 L1635.5,222.6 L1635.6,221.6 L1635.7,220.6 L1635.8,219.6 L1635.9,218.6 L1636.1,217.7 L1636.2,216.8 L1636.3,215.9 L1636.4,215.0 L1636.5,214.1 L1636.6,213.3 L1636.8,212.5 L1636.9,211.7 L1637.0,210.9 L1637.1,210.1 L1637.2,209.3 L1637.4,208.6 L1637.5,207.9 L1637.6,207.2 L1637.7,206.5 L1637.8,205.8 L1637.9,205.2 L1638.1,204.5 L1638.2,203.9 L1638.3,203.3 L1638.4,202.7 L1638.5,202.1 L1638.6,201.6 L1638.8,201.0 L1638.9,200.5 L1639.0,199.9 L1639.1,199.4 L1639.2,198.9 L1639.4,198.4 L1639.5,198.0 L1639.6,197.5 L1639.7,197.0 L1639.8,196.6 L1639.9,196.2 L1640.1,195.7 L1640.2,195.3 L1640.3,194.9 L1640.4,194.5 L1640.5,194.1 L1640.7,193.8 L1640.8,193.4 L1640.9,193.1 L1641.0,192.7 L1641.1,192.4 L1641.2,192.1 L1641.4,191.7 L1641.5,191.4 L1641.6,191.1 L1641.7,190.8 L1641.8,190.6 L1641.9,190.3 L1642.1,190.0 L1642.2,189.8 L1642.3,189.5 L1642.4,189.3 L1642.5,189.0 L1642.7,188.8 L1642.8,188.6 L1642.9,188.3 L1643.0,188.1 L1643.1,187.9 L1643.2,187.7 L1643.4,187.5 L1643.5,187.3 L1643.6,187.2 L1643.7,187.0 L1643.8,186.8 L1644.0,186.6 L1644.1,186.5 L1644.2,186.3 L1644.3,186.2 L1644.4,186.0 L1644.5,185.9 L1644.7,185.7 L1644.8,185.6 L1644.9,185.5 L1645.0,185.4 L1645.1,185.2 L1645.2,185.1 L1645.4,185.0 L1645.5,184.9 L1645.6,184.8 L1645.7,184.7 L1645.8,184.6 L1646.0,184.5 L1646.1,184.4 L1646.2,184.3 L1646.3,184.2 L1646.4,184.2 L1646.5,184.1 L1646.7,184.0 L1646.8,183.9 L1646.9,183.9 L1647.0,183.8 L1647.1,183.8 L1647.3,183.7 L1647.4,183.6 L1647.5,183.6 L1647.6,183.5 L1647.7,183.5 L1647.8,183.4 L1648.0,183.4 L1648.1,183.3 L1648.2,183.3 L1648.3,183.3 L1648.4,183.2 L1648.6,183.2 L1648.7,183.2 L1648.8,183.1 L1648.9,183.1 L1649.0,183.1 L1649.1,183.0 L1649.3,183.0 L1649.4,183.0 L1649.5,183.0 L1649.6,183.0 L1649.7,182.9 L1649.8,182.9 L1650.0,182.9 L1650.1,182.9 L1650.2,182.9 L1650.3,182.9 L1650.4,182.9 L1650.6,182.9 L1650.7,182.8 L1650.8,182.8 L1650.9,182.8 L1651.0,182.8 L1651.1,182.8 L1651.3,182.8 L1651.4,182.8 L1651.5,182.8 L1651.6,182.8 L1651.7,182.8 L1651.9,182.8 L1652.0,182.8 L1652.1,182.8 L1652.2,182.8 L1652.3,182.8 L1652.4,182.8 L1652.6,182.9 L1652.7,182.9 L1652.8,182.9 L1652.9,182.9 L1653.0,182.9 L1653.1,182.9 L1653.3,182.9 L1653.4,182.9 L1653.5,182.9 L1653.6,182.9 L1653.7,183.0 L1653.9,183.0 L1654.0,183.0 L1654.1,183.0 L1654.2,183.0 L1654.3,183.0 L1654.4,183.0 L1654.6,183.1 L1654.7,183.1 L1654.8,183.1 L1654.9,183.1 L1655.0,183.1 L1655.2,183.1 L1655.3,183.2 L1655.4,183.2 L1655.5,183.2 L1655.6,183.2 L1655.7,183.2 L1655.9,183.2 L1656.0,183.3 L1656.1,183.3 L1656.2,183.3 L1656.3,183.3 L1656.4,183.3 L1656.6,183.4 L1656.7,183.4 L1656.8,183.4 L1656.9,183.4 L1657.0,183.4 L1657.2,183.5 L1657.3,183.5 L1657.4,183.5 L1657.5,183.5 L1657.6,183.5 L1657.7,183.6 L1657.9,183.6 L1658.0,183.6 L1658.1,183.6 L1658.2,183.7 L1658.3,183.7 L1658.5,183.7 L1658.6,183.7 L1658.7,183.7 L1658.8,183.8 L1658.9,183.8 L1659.0,183.8 L1659.2,183.8 L1659.3,183.8 L1659.4,183.9 L1659.5,183.9 L1659.6,183.9 L1659.7,183.9 L1659.9,184.0 L1660.0,184.0 L1660.1,184.0 L1660.2,184.0 L1660.3,184.1 L1660.5,184.1 L1660.6,184.1 L1660.7,184.1 L1660.8,184.1 L1660.9,184.2 L1661.0,184.2 L1661.2,184.2 L1661.3,184.2 L1661.4,184.3 L1661.5,184.3 L1661.6,184.3 L1661.8,184.3 L1661.9,184.3 L1662.0,184.4 L1662.1,184.4 L1662.2,184.4 L1662.3,184.4 L1662.5,184.5 L1662.6,184.5 L1662.7,184.5 L1662.8,184.5 L1662.9,184.6 L1663.0,184.6 L1663.2,184.6 L1663.3,184.6 L1663.4,184.6 L1663.5,184.7 L1663.6,184.7 L1663.8,184.7 L1663.9,184.7 L1664.0,184.8 L1664.1,184.8 L1664.2,184.8 L1664.3,184.8 L1664.5,184.9 L1664.6,184.9 L1664.7,184.9 L1664.8,184.9 L1664.9,184.9 L1665.1,185.0 L1665.2,185.0 L1665.3,185.0 L1665.4,185.0 L1665.5,185.1 L1665.6,185.1 L1665.8,185.1 L1665.9,185.1 L1666.0,185.1 L1666.1,185.2 L1666.2,185.2 L1666.3,185.2 L1666.5,185.2 L1666.6,185.3 L1666.7,185.3 L1666.8,185.3 L1666.9,185.3 L1667.1,185.4 L1667.2,185.4 L1667.3,185.4 L1667.4,185.4 L1667.5,185.4 L1667.6,185.5 L1667.8,185.5 L1667.9,185.5 L1668.0,185.5 L1668.1,185.6 L1668.2,185.6 L1668.4,185.6 L1668.5,185.6 L1668.6,185.6 L1668.7,185.7 L1668.8,185.7 L1668.9,185.7 L1669.1,185.7 L1669.2,185.8 L1669.3,185.8 L1669.4,185.8 L1669.5,185.8 L1669.6,185.8 L1669.8,185.9 L1669.9,185.9 L1670.0,185.9 L1670.1,185.9 L1670.2,186.0 L1670.4,186.0 L1670.5,186.0 L1670.6,186.0 L1670.7,186.0 L1670.8,186.1 L1670.9,186.1 L1671.1,186.1 L1671.2,186.1 L1671.3,186.2 L1673.2,186.5 L1675.1,186.9 L1677.0,187.2 L1678.9,187.5 L1680.8,187.9 L1682.7,188.2 L1684.6,188.5 L1686.5,188.9 L1688.4,189.2 L1690.3,189.5 L1692.2,189.8 L1694.0,190.1 L1695.9,190.4 L1697.8,190.7 L1699.7,191.0 L1701.6,191.3 L1703.5,191.6 L1705.4,191.9 L1707.3,192.2 L1709.2,192.5 L1711.1,192.8 L1713.0,193.0 L1714.9,193.3 L1716.8,193.6 L1718.7,193.8 L1720.6,194.1 L1722.5,194.4 L1724.4,194.6 L1726.3,194.9 L1728.2,195.1 L1730.1,195.4 L1732.0,195.6 L1733.9,195.8 L1735.7,196.1 L1737.6,196.3 L1739.5,196.6 L1741.4,196.8 L1743.3,197.0 L1745.2,197.2 L1747.1,197.5 L1749.0,197.7 L1750.9,197.9 L1752.8,198.1 L1754.7,198.3 L1756.6,198.5 L1758.5,198.7 L1760.4,198.9 L1762.3,199.1 L1764.2,199.3 L1766.1,199.5 L1768.0,199.7 L1769.9,199.9 L1771.8,200.1 L1773.7,200.3 L1775.6,200.5 L1777.4,200.7 L1779.3,200.9 L1781.2,201.0 L1783.1,201.2 L1785.0,201.4 L1786.9,201.6 L1788.8,201.7 L1790.7,201.9 L1792.6,202.1 L1794.5,202.2 L1796.4,202.4 L1798.3,202.6 L1800.2,202.7 L1802.1,202.9 L1804.0,203.0 L1805.9,203.2 L1807.8,203.3 L1809.7,203.5 L1811.6,203.6 L1813.5,203.8 L1815.4,203.9 L1817.3,204.1 L1819.1,204.2 L1821.0,204.4 L1822.9,204.5 L1824.8,204.6 L1826.7,204.8 L1828.6,204.9 L1830.5,205.0 L1832.4,205.2 L1834.3,205.3 L1836.2,205.4 L1838.1,205.5 L1840.0,205.7 L1841.9,205.8 L1843.8,205.9 L1845.7,206.0 L1847.6,206.2 L1849.5,206.3 L1851.4,206.4 L1853.3,206.5 L1855.2,206.6 L1857.1,206.7 L1859.0,206.8 L1860.8,206.9 L1862.7,207.1 L1864.6,207.2 L1866.5,207.3 L1868.4,207.4 L1870.3,207.5 L1872.2,207.6 L1874.1,207.7 L1876.0,207.8 L1877.9,207.9 L1879.8,208.0 L1881.7,208.1 L1883.6,208.2 L1885.5,208.3 L1887.4,208.4 L1889.3,208.4 L1891.2,208.5 L1893.1,208.6 L1895.0,208.7 L1896.9,208.8 L1898.8,208.9 L1900.7,209.0 L1902.5,209.1 L1904.4,209.1 L1906.3,209.2 L1908.2,209.3 L1910.1,209.4 L1912.0,209.5 L1913.9,209.5 L1915.8,209.6 L1917.7,209.7 L1919.6,209.8 L1921.5,209.8 L1923.4,209.9 L1925.3,210.0 L1927.2,210.1 L1929.1,210.1 L1931.0,210.2 L1932.9,210.3 L1934.8,210.3 L1936.7,210.4 L1938.6,210.5 L1940.5,210.5 L1942.4,210.6 L1944.2,210.7 L1946.1,210.7 L1948.0,210.8 L1949.9,210.9 L1951.8,210.9 L1953.7,211.0 L1955.6,211.1 L1957.5,211.1 L1959.4,211.2 L1961.3,211.2 L1963.2,211.3 L1965.1,211.3 L1967.0,211.4 L1968.9,211.5 L1970.8,211.5 L1972.7,211.6 L1974.6,211.6 L1976.5,211.7 L1978.4,211.7 L1980.3,211.8 L1982.2,211.8 L1984.1,211.9 L1985.9,211.9 L1987.8,212.0 L1989.7,212.0 L1991.6,212.1 L1993.5,212.1 L1995.4,212.2 L1997.3,212.2 L1999.2,212.3 L2001.1,212.3 L2003.0,212.4 L2004.9,212.4 L2006.8,212.4 L2008.7,212.5 L2010.6,212.5 L2012.5,212.6 L2014.4,212.6 L2016.3,212.7 L2018.2,212.7 L2020.1,212.7 L2022.0,212.8 L2023.9,212.8 L2025.8,212.9 L2027.6,212.9 L2029.5,212.9 L2031.4,213.0 L2033.3,213.0 L2035.2,213.0 L2037.1,213.1 L2039.0,213.1 L2040.9,213.2 L2042.8,213.2 L2044.7,213.2 L2046.6,213.3 L2048.5,213.3" stroke="#000" stroke-width="2"/>
<path d="M1199.8,214.3 L1201.7,214.3 L1203.6,214.2 L1205.5,214.2 L1207.4,214.2 L1209.3,214.1 L1211.2,214.1 L1213.1,214.0 L1215.0,214.0 L1216.9,214.0 L1218.8,213.9 L1220.7,213.9 L1222.5,213.9 L1224.4,213.8 L1226.3,213.8 L1228.2,213.7 L1230.1,213.7 L1232.0,213.7 L1233.9,213.6 L1235.8,213.6 L1237.7,213.5 L1239.6,213.5 L1241.5,213.4 L1243.4,213.4 L1245.3,213.4 L1247.2,213.3 L1249.1,213.3 L1251.0,213.2 L1252.9,213.2 L1254.8,213.1 L1256.7,213.1 L1258.6,213.0 L1260.5,213.0 L1262.4,212.9 L1264.2,212.9 L1266.1,212.8 L1268.0,212.8 L1269.9,212.7 L1271.8,212.7 L1273.7,212.6 L1275.6,212.6 L1277.5,212.5 L1279.4,212.5 L1281.3,212.4 L1283.2,212.3 L1285.1,212.3 L1287.0,212.2 L1288.9,212.2 L1290.8,212.1 L1292.7,212.1 L1294.6,212.0 L1296.5,211.9 L1298.4,211.9 L1300.3,211.8 L1302.2,211.7 L1304.1,211.7 L1305.9,211.6 L1307.8,211.5 L1309.7,211.5 L1311.6,211.4 L1313.5,211.3 L1315.4,211.3 L1317.3,211.2 L1319.2,211.1 L1321.1,211.1 L1323.0,211.0 L1324.9,210.9 L1326.8,210.8 L1328.7,210.8 L1330.6,210.7 L1332.5,210.6 L1334.4,210.5 L1336.3,210.5 L1338.2,210.4 L1340.1,210.3 L1342.0,210.2 L1343.9,210.1 L1345.8,210.1 L1347.6,210.0 L1349.5,209.9 L1351.4,209.8 L1353.3,209.7 L1355.2,209.6 L1357.1,209.5 L1359.0,209.4 L1360.9,209.4 L1362.8,209.3 L1364.7,209.2 L1366.6,209.1 L1368.5,209.0 L1370.4,208.9 L1372.3,208.8 L1374.2,208.7 L1376.1,208.6 L1378.0,208.5 L1379.9,208.4 L1381.8,208.3 L1383.7,208.2 L1385.6,208.1 L1387.5,207.9 L1389.3,207.8 L1391.2,207.7 L1393.1,207.6 L1395.0,207.5 L1396.9,207.4 L1398.8,207.3 L1400.7,207.2 L1402.6,207.0 L1404.5,206.9 L1406.4,206.8 L1408.3,206.7 L1410.2,206.5 L1412.1,206.4 L1414.0,206.3 L1415.9,206.2 L1417.8,206.0 L1419.7,205.9 L1421.6,205.8 L1423.5,205.6 L1425.4,205.5 L1427.3,205.4 L1429.2,205.2 L1431.0,205.1 L1432.9,204.9 L1434.8,204.8 L1436.7,204.6 L1438.6,204.5 L1440.5,204.3 L1442.4,204.2 L1444.3,204.0 L1446.2,203.9 L1448.1,203.7 L1450.0,203.6 L1451.9,203.4 L1453.8,203.2 L1455.7,203.1 L1457.6,202.9 L1459.5,202.7 L1461.4,202.6 L1463.3,202.4 L1465.2,202.2 L1467.1,202.0 L1469.0,201.9 L1470.9,201.7 L1472.7,201.5 L1474.6,201.3 L1476.5,201.1 L1478.4,200.9 L1480.3,200.7 L1482.2,200.5 L1484.1,200.3 L1486.0,200.1 L1487.9,199.9 L1489.8,199.7 L1491.7,199.5 L1493.6,199.3 L1495.5,199.1 L1497.4,198.9 L1499.3,198.7 L1501.2,198.5 L1503.1,198.2 L1505.0,198.0 L1506.9,197.8 L1508.8,197.6 L1510.7,197.3 L1512.6,197.1 L1514.4,196.8 L1516.3,196.6 L1518.2,196.4 L1520.1,196.1 L1522.0,195.9 L1523.9,195.6 L1525.8,195.4 L1527.7,195.1 L1529.6,194.8 L1531.5,194.6 L1533.4,194.3 L1535.3,194.0 L1537.2,193.8 L1539.1,193.5 L1541.0,193.2 L1542.9,192.9 L1544.8,192.6 L1546.7,192.3 L1548.6,192.0 L1550.5,191.7 L1552.4,191.4 L1554.3,191.1 L1556.1,190.8 L1558.0,190.5 L1559.9,190.2 L1561.8,189.9 L1563.7,189.5 L1565.6,189.2 L1567.5,188.9 L1569.4,188.5 L1571.3,188.2 L1573.2,187.9 L1575.1,187.5 L1577.0,187.2 L1577.1,187.1 L1577.2,187.1 L1577.4,187.1 L1577.5,187.1 L1577.6,187.0 L1577.7,187.0 L1577.8,187.0 L1577.9,187.0 L1578.1,187.0 L1578.2,186.9 L1578.3,186.9 L1578.4,186.9 L1578.5,186.9 L1578.7,186.8 L1578.8,186.8 L1578.9,186.8 L1579.0,186.8 L1579.1,186.8 L1579.2,186.7 L1579.4,186.7 L1579.5,186.7 L1579.6,186.7 L1579.7,186.6 L1579.8,186.6 L1579.9,186.6 L1580.1,186.6 L1580.2,186.6 L1580.3,186.5 L1580.4,186.5 L1580.5,186.5 L1580.7,186.5 L1580.8,186.4 L1580.9,186.4 L1581.0,186.4 L1581.1,186.4 L1581.2,186.4 L1581.4,186.3 L1581.5,186.3 L1581.6,186.3 L1581.7,186.3 L1581.8,186.2 L1582.0,186.2 L1582.1,186.2 L1582.2,186.2 L1582.3,186.1 L1582.4,186.1 L1582.5,186.1 L1582.7,186.1 L1582.8,186.1 L1582.9,186.0 L1583.0,186.0 L1583.1,186.0 L1583.2,186.0 L1583.4,185.9 L1583.5,185.9 L1583.6,185.9 L1583.7,185.9 L1583.8,185.9 L1584.0,185.8 L1584.1,185.8 L1584.2,185.8 L1584.3,185.8 L1584.4,185.7 L1584.5,185.7 L1584.7,185.7 L1584.8,185.7 L1584.9,185.6 L1585.0,185.6 L1585.1,185.6 L1585.3,185.6 L1585.4,185.6 L1585.5,185.5 L1585.6,185.5 L1585.7,185.5 L1585.8,185.5 L1586.0,185.4 L1586.1,185.4 L1586.2,185.4 L1586.3,185.4 L1586.4,185.3 L1586.5,185.3 L1586.7,185.3 L1586.8,185.3 L1586.9,185.3 L1587.0,185.2 L1587.1,185.2 L1587.3,185.2 L1587.4,185.2 L1587.5,185.1 L1587.6,185.1 L1587.7,185.1 L1587.8,185.1 L1588.0,185.0 L1588.1,185.0 L1588.2,185.0 L1588.3,185.0 L1588.4,185.0 L1588.6,184.9 L1588.7,184.9 L1588.8,184.9 L1588.9,184.9 L1589.0,184.8 L1589.1,184.8 L1589.3,184.8 L1589.4,184.8 L1589.5,184.8 L1589.6,184.7 L1589.7,184.7 L1589.8,184.7 L1590.0,184.7 L1590.1,184.6 L1590.2,184.6 L1590.3,184.6 L1590.4,184.6 L1590.6,184.6 L1590.7,184.5 L1590.8,184.5 L1590.9,184.5 L1591.0,184.5 L1591.1,184.5 L1591.3,184.4 L1591.4,184.4 L1591.5,184.4 L1591.6,184.4 L1591.7,184.4 L1591.9,184.3 L1592.0,184.3 L1592.1,184.3 L1592.2,184.3 L1592.3,184.3 L1592.4,184.2 L1592.6,184.2 L1592.7,184.2 L1592.8,184.2 L1592.9,184.2 L1593.0,184.2 L1593.1,184.2 L1593.3,184.1 L1593.4,184.1 L1593.5,184.1 L1593.6,184.1 L1593.7,184.1 L1593.9,184.1 L1594.0,184.1 L1594.1,184.0 L1594.2,184.0 L1594.3,184.0 L1594.4,184.0 L1594.6,184.0 L1594.7,184.0 L1594.8,184.0 L1594.9,184.0 L1595.0,184.0 L1595.2,184.0 L1595.3,184.0 L1595.4,184.0 L1595.5,184.0 L1595.6,184.0 L1595.7,183.9 L1595.9,183.9 L1596.0,184.0 L1596.1,184.0 L1596.2,184.0 L1596.3,184.0 L1596.4,184.0 L1596.6,184.0 L1596.7,184.0 L1596.8,184.0 L1596.9,184.0 L1597.0,184.0 L1597.2,184.0 L1597.3,184.0 L1597.4,184.1 L1597.5,184.1 L1597.6,184.1 L1597.7,184.1 L1597.9,184.1 L1598.0,184.2 L1598.1,184.2 L1598.2,184.2 L1598.3,184.2 L1598.5,184.3 L1598.6,184.3 L1598.7,184.4 L1598.8,184.4 L1598.9,184.4 L1599.0,184.5 L1599.2,184.5 L1599.3,184.6 L1599.4,184.6 L1599.5,184.7 L1599.6,184.7 L1599.7,184.8 L1599.9,184.9 L1600.0,184.9 L1600.1,185.0 L1600.2,185.1 L1600.3,185.1 L1600.5,185.2 L1600.6,185.3 L1600.7,185.4 L1600.8,185.5 L1600.9,185.6 L1601.0,185.7 L1601.2,185.8 L1601.3,185.9 L1601.4,186.0 L1601.5,186.1 L1601.6,186.2 L1601.8,186.3 L1601.9,186.5 L1602.0,186.6 L1602.1,186.7 L1602.2,186.9 L1602.3,187.0 L1602.5,187.2 L1602.6,187.3 L1602.7,187.5 L1602.8,187.6 L1602.9,187.8 L1603.1,188.0 L1603.2,188.2 L1603.3,188.4 L1603.4,188.6 L1603.5,188.8 L1603.6,189.0 L1603.8,189.2 L1603.9,189.4 L1604.0,189.6 L1604.1,189.9 L1604.2,190.1 L1604.3,190.4 L1604.5,190.6 L1604.6,190.9 L1604.7,191.2 L1604.8,191.4 L1604.9,191.7 L1605.1,192.0 L1605.2,192.3 L1605.3,192.6 L1605.4,193.0 L1605.5,193.3 L1605.6,193.6 L1605.8,194.0 L1605.9,194.3 L1606.0,194.7 L1606.1,195.1 L1606.2,195.5 L1606.4,195.9 L1606.5,196.3 L1606.6,196.7 L1606.7,197.1 L1606.8,197.5 L1606.9,198.0 L1607.1,198.4 L1607.2,198.9 L1607.3,199.4 L1607.4,199.9 L1607.5,200.4 L1607.6,200.9 L1607.8,201.4 L1607.9,202.0 L1608.0,202.5 L1608.1,203.1 L1608.2,203.7 L1608.4,204.3 L1608.5,204.9 L1608.6,205.5 L1608.7,206.1 L1608.8,206.8 L1608.9,207.4 L1609.1,208.1 L1609.2,208.8 L1609.3,209.5 L1609.4,210.2 L1609.5,210.9 L1609.7,211.7 L1609.8,212.4 L1609.9,213.2 L1610.0,214.0 L1610.1,214.8 L1610.2,215.7 L1610.4,216.5 L1610.5,217.4 L1610.6,218.2 L1610.7,219.1 L1610.8,220.1 L1610.9,221.0 L1611.1,221.9 L1611.2,222.9 L1611.3,223.9 L1611.4,224.9 L1611.5,225.9 L1611.7,227.0 L1611.8,228.0 L1611.9,229.1 L1612.0,230.2 L1612.1,231.4 L1612.2,232.5 L1612.4,233.7 L1612.5,234.9 L1612.6,236.1 L1612.7,237.3 L1612.8,238.6 L1613.0,239.8 L1613.1,241.2 L1613.2,242.5 L1613.3,243.8 L1613.4,245.2 L1613.5,246.6 L1613.7,248.0 L1613.8,249.5 L1613.9,250.9 L1614.0,252.4 L1614.1,254.0 L1614.2,255.5 L1614.4,257.1 L1614.5,258.7 L1614.6,260.3 L1614.7,262.0 L1614.8,263.7 L1615.0,265.4 L1615.1,267.1 L1615.2,268.9 L1615.3,270.7 L1615.4,272.5 L1615.5,274.4 L1615.7,276.3 L1615.8,278.2 L1615.9,280.2 L1616.0,282.1 L1616.1,284.2 L1616.3,286.2 L1616.4,288.3 L1616.5,290.4 L1616.6,292.6 L1616.7,294.8 L1616.8,297.0 L1617.0,299.3 L1617.1,301.6 L1617.2,303.9 L1617.3,306.3 L1617.4,308.7 L1617.5,311.1 L1617.7,313.6 L1617.8,316.2 L1617.9,318.7 L1618.0,321.4 L1618.1,324.0 L1618.3,326.7 L1618.4,329.5 L1618.5,332.2 L1618.6,335.1 L1618.7,337.9 L1618.8,340.9 L1619.0,343.8 L1619.1,346.9 L1619.2,349.9 L1619.3,353.0 L1619.4,356.2 L1619.6,359.4 L1619.7,362.7 L1619.8,366.0 L1619.9,369.4 L1620.0,372.8 L1620.1,376.3 L1620.3,379.8 L1620.4,383.4 L1620.5,387.1 L1620.6,390.8 L1620.7,394.5 L1620.8,398.4 L1621.0,402.3 L1621.1,406.2 L1621.2,410.3 L1621.3,414.3 L1621.4,418.5 L1621.6,422.7 L1621.7,427.0 L1621.8,431.4 L1621.9,435.8 L1622.0,440.3 L1622.1,444.9 L1622.3,449.6 L1622.4,454.3 L1622.5,459.1 L1622.6,464.0 L1622.7,469.0 L1622.9,474.1 L1623.0,479.2 L1623.1,484.5 L1623.2,489.8 L1623.3,495.2 L1623.4,500.7 L1623.6,506.3 L1623.7,512.0 L1623.8,517.8 L1623.9,523.7 L1624.0,529.7 L1624.2,535.8 L1624.3,528.5 L1624.4,521.2 L1624.5,514.2 L1624.6,507.2 L1624.7,500.5 L1624.9,493.8 L1625.0,487.3 L1625.1,480.9 L1625.2,474.7 L1625.3,468.6 L1625.4,462.6 L1625.6,456.7 L1625.7,451.0 L1625.8,445.3 L1625.9,439.8 L1626.0,434.4 L1626.2,429.1 L1626.3,423.9 L1626.4,418.9 L1626.5,413.9 L1626.6,409.0 L1626.7,404.2 L1626.9,399.5 L1627.0,394.9 L1627.1,390.4 L1627.2,386.0 L1627.3,381.7 L1627.5,377.5 L1627.6,373.3 L1627.7,369.3 L1627.8,365.3 L1627.9,361.4 L1628.0,357.5 L1628.2,353.8 L1628.3,350.1 L1628.4,346.5 L1628.5,343.0 L1628.6,339.5 L1628.7,336.1 L1628.9,332.8 L1629.0,329.6 L1629.1,326.4 L1629.2,323.2 L1629.3,320.2 L1629.5,317.2 L1629.6,314.2 L1629.7,311.4 L1629.8,308.5 L1629.9,305.8 L1630.0,303.0 L1630.2,300.4 L1630.3,297.8 L1630.4,295.2 L1630.5,292.7 L1630.6,290.3 L1630.8,287.9 L1630.9,285.5 L1631.0,283.2 L1631.1,281.0 L1631.2,278.7 L1631.3,276.6 L1631.5,274.4 L1631.6,272.4 L1631.7,270.3 L1631.8,268.3 L1631.9,266.4 L1632.0,264.4 L1632.2,262.6 L1632.3,260.7 L1632.4,258.9 L1632.5,257.1 L1632.6,255.4 L1632.8,253.7 L1632.9,252.1 L1633.0,250.4 L1633.1,248.8 L1633.2,247.3 L1633.3,245.8 L1633.5,244.3 L1633.6,242.8 L1633.7,241.4 L1633.8,240.0 L1633.9,238.6 L1634.1,237.2 L1634.2,235.9 L1634.3,234.6 L1634.4,233.4 L1634.5,232.1 L1634.6,230.9 L1634.8,229.7 L1634.9,228.6 L1635.0,227.4 L1635.1,226.3 L1635.2,225.2 L1635.3,224.2 L1635.5,223.1 L1635.6,222.1 L1635.7,221.1 L1635.8,220.2 L1635.9,219.2 L1636.1,218.3 L1636.2,217.4 L1636.3,216.5 L1636.4,215.6 L1636.5,214.7 L1636.6,213.9 L1636.8,213.1 L1636.9,212.3 L1637.0,211.5 L1637.1,210.8 L1637.2,210.0 L1637.4,209.3 L1637.5,208.6 L1637.6,207.9 L1637.7,207.2 L1637.8,206.5 L1637.9,205.9 L1638.1,205.3 L1638.2,204.6 L1638.3,204.0 L1638.4,203.5 L1638.5,202.9 L1638.6,202.3 L1638.8,201.8 L1638.9,201.2 L1639.0,200.7 L1639.1,200.2 L1639.2,199.7 L1639.4,199.2 L1639.5,198.8 L1639.6,198.3 L1639.7,197.8 L1639.8,197.4 L1639.9,197.0 L1640.1,196.6 L1640.2,196.1 L1640.3,195.8 L1640.4,195.4 L1640.5,195.0 L1640.7,194.6 L1640.8,194.3 L1640.9,193.9 L1641.0,193.6 L1641.1,193.3 L1641.2,192.9 L1641.4,192.6 L1641.5,192.3 L1641.6,192.0 L1641.7,191.7 L1641.8,191.4 L1641.9,191.2 L1642.1,190.9 L1642.2,190.7 L1642.3,190.4 L1642.4,190.2 L1642.5,189.9 L1642.7,189.7 L1642.8,189.5 L1642.9,189.3 L1643.0,189.0 L1643.1,188.8 L1643.2,188.6 L1643.4,188.5 L1643.5,188.3 L1643.6,188.1 L1643.7,187.9 L1643.8,187.7 L1644.0,187.6 L1644.1,187.4 L1644.2,187.3 L1644.3,187.1 L1644.4,187.0 L1644.5,186.8 L1644.7,186.7 L1644.8,186.6 L1644.9,186.4 L1645.0,186.3 L1645.1,186.2 L1645.2,186.1 L1645.4,186.0 L1645.5,185.9 L1645.6,185.8 L1645.7,185.7 L1645.8,185.6 L1646.0,185.5 L1646.1,185.4 L1646.2,185.3 L1646.3,185.2 L1646.4,185.1 L1646.5,185.1 L1646.7,185.0 L1646.8,184.9 L1646.9,184.8 L1647.0,184.8 L1647.1,184.7 L1647.3,184.7 L1647.4,184.6 L1647.5,184.6 L1647.6,184.5 L1647.7,184.5 L1647.8,184.4 L1648.0,184.4 L1648.1,184.3 L1648.2,184.3 L1648.3,184.2 L1648.4,184.2 L1648.6,184.2 L1648.7,184.1 L1648.8,184.1 L1648.9,184.1 L1649.0,184.1 L1649.1,184.0 L1649.3,184.0 L1649.4,184.0 L1649.5,184.0 L1649.6,183.9 L1649.7,183.9 L1649.8,183.9 L1650.0,183.9 L1650.1,183.9 L1650.2,183.9 L1650.3,183.9 L1650.4,183.9 L1650.6,183.8 L1650.7,183.8 L1650.8,183.8 L1650.9,183.8 L1651.0,183.8 L1651.1,183.8 L1651.3,183.8 L1651.4,183.8 L1651.5,183.8 L1651.6,183.8 L1651.7,183.8 L1651.9,183.8 L1652.0,183.8 L1652.1,183.8 L1652.2,183.8 L1652.3,183.8 L1652.4,183.8 L1652.6,183.9 L1652.7,183.9 L1652.8,183.9 L1652.9,183.9 L1653.0,183.9 L1653.1,183.9 L1653.3,183.9 L1653.4,183.9 L1653.5,183.9 L1653.6,183.9 L1653.7,184.0 L1653.9,184.0 L1654.0,184.0 L1654.1,184.0 L1654.2,184.0 L1654.3,184.0 L1654.4,184.0 L1654.6,184.1 L1654.7,184.1 L1654.8,184.1 L1654.9,184.1 L1655.0,184.1 L1655.2,184.1 L1655.3,184.2 L1655.4,184.2 L1655.5,184.2 L1655.6,184.2 L1655.7,184.2 L1655.9,184.2 L1656.0,184.3 L1656.1,184.3 L1656.2,184.3 L1656.3,184.3 L1656.4,184.3 L1656.6,184.4 L1656.7,184.4 L1656.8,184.4 L1656.9,184.4 L1657.0,184.4 L1657.2,184.5 L1657.3,184.5 L1657.4,184.5 L1657.5,184.5 L1657.6,184.5 L1657.7,184.6 L1657.9,184.6 L1658.0,184.6 L1658.1,184.6 L1658.2,184.7 L1658.3,184.7 L1658.5,184.7 L1658.6,184.7 L1658.7,184.7 L1658.8,184.8 L1658.9,184.8 L1659.0,184.8 L1659.2,184.8 L1659.3,184.8 L1659.4,184.9 L1659.5,184.9 L1659.6,184.9 L1659.7,184.9 L1659.9,185.0 L1660.0,185.0 L1660.1,185.0 L1660.2,185.0 L1660.3,185.1 L1660.5,185.1 L1660.6,185.1 L1660.7,185.1 L1660.8,185.1 L1660.9,185.2 L1661.0,185.2 L1661.2,185.2 L1661.3,185.2 L1661.4,185.3 L1661.5,185.3 L1661.6,185.3 L1661.8,185.3 L1661.9,185.3 L1662.0,185.4 L1662.1,185.4 L1662.2,185.4 L1662.3,185.4 L1662.5,185.5 L1662.6,185.5 L1662.7,185.5 L1662.8,185.5 L1662.9,185.6 L1663.0,185.6 L1663.2,185.6 L1663.3,185.6 L1663.4,185.6 L1663.5,185.7 L1663.6,185.7 L1663.8,185.7 L1663.9,185.7 L1664.0,185.8 L1664.1,185.8 L1664.2,185.8 L1664.3,185.8 L1664.5,185.9 L1664.6,185.9 L1664.7,185.9 L1664.8,185.9 L1664.9,185.9 L1665.1,186.0 L1665.2,186.0 L1665.3,186.0 L1665.4,186.0 L1665.5,186.1 L1665.6,186.1 L1665.8,186.1 L1665.9,186.1 L1666.0,186.1 L1666.1,186.2 L1666.2,186.2 L1666.3,186.2 L1666.5,186.2 L1666.6,186.3 L1666.7,186.3 L1666.8,186.3 L1666.9,186.3 L1667.1,186.4 L1667.2,186.4 L1667.3,186.4 L1667.4,186.4 L1667.5,186.4 L1667.6,186.5 L1667.8,186.5 L1667.9,186.5 L1668.0,186.5 L1668.1,186.6 L1668.2,186.6 L1668.4,186.6 L1668.5,186.6 L1668.6,186.6 L1668.7,186.7 L1668.8,186.7 L1668.9,186.7 L1669.1,186.7 L1669.2,186.8 L1669.3,186.8 L1669.4,186.8 L1669.5,186.8 L1669.6,186.8 L1669.8,186.9 L1669.9,186.9 L1670.0,186.9 L1670.1,186.9 L1670.2,187.0 L1670.4,187.0 L1670.5,187.0 L1670.6,187.0 L1670.7,187.0 L1670.8,187.1 L1670.9,187.1 L1671.1,187.1 L1671.2,187.1 L1671.3,187.2 L1673.2,187.5 L1675.1,187.9 L1677.0,188.2 L1678.9,188.5 L1680.8,188.9 L1682.7,189.2 L1684.6,189.5 L1686.5,189.9 L1688.4,190.2 L1690.3,190.5 L1692.2,190.8 L1694.0,191.1 L1695.9,191.4 L1697.8,191.7 L1699.7,192.0 L1701.6,192.3 L1703.5,192.6 L1705.4,192.9 L1707.3,193.2 L1709.2,193.5 L1711.1,193.8 L1713.0,194.0 L1714.9,194.3 L1716.8,194.6 L1718.7,194.8 L1720.6,195.1 L1722.5,195.4 L1724.4,195.6 L1726.3,195.9 L1728.2,196.1 L1730.1,196.4 L1732.0,196.6 L1733.9,196.8 L1735.7,197.1 L1737.6,197.3 L1739.5,197.6 L1741.4,197.8 L1743.3,198.0 L1745.2,198.2 L1747.1,198.5 L1749.0,198.7 L1750.9,198.9 L1752.8,199.1 L1754.7,199.3 L1756.6,199.5 L1758.5,199.7 L1760.4,199.9 L1762.3,200.1 L1764.2,200.3 L1766.1,200.5 L1768.0,200.7 L1769.9,200.9 L1771.8,201.1 L1773.7,201.3 L1775.6,201.5 L1777.4,201.7 L1779.3,201.9 L1781.2,202.0 L1783.1,202.2 L1785.0,202.4 L1786.9,202.6 L1788.8,202.7 L1790.7,202.9 L1792.6,203.1 L1794.5,203.2 L1796.4,203.4 L1798.3,203.6 L1800.2,203.7 L1802.1,203.9 L1804.0,204.0 L1805.9,204.2 L1807.8,204.3 L1809.7,204.5 L1811.6,204.6 L1813.5,204.8 L1815.4,204.9 L1817.3,205.1 L1819.1,205.2 L1821.0,205.4 L1822.9,205.5 L1824.8,205.6 L1826.7,205.8 L1828.6,205.9 L1830.5,206.0 L1832.4,206.2 L1834.3,206.3 L1836.2,206.4 L1838.1,206.5 L1840.0,206.7 L1841.9,206.8 L1843.8,206.9 L1845.7,207.0 L1847.6,207.2 L1849.5,207.3 L1851.4,207.4 L1853.3,207.5 L1855.2,207.6 L1857.1,207.7 L1859.0,207.8 L1860.8,207.9 L1862.7,208.1 L1864.6,208.2 L1866.5,208.3 L1868.4,208.4 L1870.3,208.5 L1872.2,208.6 L1874.1,208.7 L1876.0,208.8 L1877.9,208.9 L1879.8,209.0 L1881.7,209.1 L1883.6,209.2 L1885.5,209.3 L1887.4,209.4 L1889.3,209.4 L1891.2,209.5 L1893.1,209.6 L1895.0,209.7 L1896.9,209.8 L1898.8,209.9 L1900.7,210.0 L1902.5,210.1 L1904.4,210.1 L1906.3,210.2 L1908.2,210.3 L1910.1,210.4 L1912.0,210.5 L1913.9,210.5 L1915.8,210.6 L1917.7,210.7 L1919.6,210.8 L1921.5,210.8 L1923.4,210.9 L1925.3,211.0 L1927.2,211.1 L1929.1,211.1 L1931.0,211.2 L1932.9,211.3 L1934.8,211.3 L1936.7,211.4 L1938.6,211.5 L1940.5,211.5 L1942.4,211.6 L1944.2,211.7 L1946.1,211.7 L1948.0,211.8 L1949.9,211.9 L1951.8,211.9 L1953.7,212.0 L1955.6,212.1 L1957.5,212.1 L1959.4,212.2 L1961.3,212.2 L1963.2,212.3 L1965.1,212.3 L1967.0,212.4 L1968.9,212.5 L1970.8,212.5 L1972.7,212.6 L1974.6,212.6 L1976.5,212.7 L1978.4,212.7 L1980.3,212.8 L1982.2,212.8 L1984.1,212.9 L1985.9,212.9 L1987.8,213.0 L1989.7,213.0 L1991.6,213.1 L1993.5,213.1 L1995.4,213.2 L1997.3,213.2 L1999.2,213.3 L2001.1,213.3 L2003.0,213.4 L2004.9,213.4 L2006.8,213.4 L2008.7,213.5 L2010.6,213.5 L2012.5,213.6 L2014.4,213.6 L2016.3,213.7 L2018.2,213.7 L2020.1,213.7 L2022.0,213.8 L2023.9,213.8 L2025.8,213.9 L2027.6,213.9 L2029.5,213.9 L2031.4,214.0 L2033.3,214.0 L2035.2,214.0 L2037.1,214.1 L2039.0,214.1 L2040.9,214.2 L2042.8,214.2 L2044.7,214.2 L2046.6,214.3 L2048.5,214.3" stroke="#2ca02c" stroke-width="3.5"/>
</g>
<rect x="166.7" y="18.0" width="848.7" height="597.5" fill="none" stroke="#262626" stroke-width="3.2"/>
<line x1="152.2" y1="615.5" x2="166.7" y2="615.5" stroke="#262626" stroke-width="3.1"/>
<text transform="translate(90.61,627.80)" font-family="'Liberation Sans', Arial, sans-serif" font-size="33.00" fill="#1e1e1e" stroke="#1e1e1e" stroke-width="0.45">0.0</text>
<line x1="152.2" y1="535.8" x2="166.7" y2="535.8" stroke="#262626" stroke-width="3.1"/>
<text transform="translate(90.99,548.13)" font-family="'Liberation Sans', Arial, sans-serif" font-size="33.00" fill="#1e1e1e" stroke="#1e1e1e" stroke-width="0.45">0.2</text>
<line x1="152.2" y1="456.2" x2="166.7" y2="456.2" stroke="#262626" stroke-width="3.1"/>
<text transform="translate(90.29,468.46)" font-family="'Liberation Sans', Arial, sans-serif" font-size="33.00" fill="#1e1e1e" stroke="#1e1e1e" stroke-width="0.45">0.4</text>
<line x1="152.2" y1="376.5" x2="166.7" y2="376.5" stroke="#262626" stroke-width="3.1"/>
<text transform="translate(90.78,388.78)" font-family="'Liberation Sans', Arial, sans-serif" font-size="33.00" fill="#1e1e1e" stroke="#1e1e1e" stroke-width="0.45">0.6</text>
<line x1="152.2" y1="296.8" x2="166.7" y2="296.8" stroke="#262626" stroke-width="3.1"/>
<text transform="translate(90.76,309.11)" font-family="'Liberation Sans', Arial, sans-serif" font-size="33.00" fill="#1e1e1e" stroke="#1e1e1e" stroke-width="0.45">0.8</text>
<line x1="152.2" y1="217.1" x2="166.7" y2="217.1" stroke="#262626" stroke-width="3.1"/>
<text transform="translate(90.61,229.44)" font-family="'Liberation Sans', Arial, sans-serif" font-size="33.00" fill="#1e1e1e" stroke="#1e1e1e" stroke-width="0.45">1.0</text>
<line x1="152.2" y1="137.5" x2="166.7" y2="137.5" stroke="#262626" stroke-width="3.1"/>
<text transform="translate(90.99,149.77)" font-family="'Liberation Sans', Arial, sans-serif" font-size="33.00" fill="#1e1e1e" stroke="#1e1e1e" stroke-width="0.45">1.2</text>
<line x1="152.2" y1="57.8" x2="166.7" y2="57.8" stroke="#262626" stroke-width="3.1"/>
<text transform="translate(90.29,70.10)" font-family="'Liberation Sans', Arial, sans-serif" font-size="33.00" fill="#1e1e1e" stroke="#1e1e1e" stroke-width="0.45">1.4</text>
<line x1="237.4" y1="615.5" x2="237.4" y2="630.1" stroke="#262626" stroke-width="3.1"/>
<text transform="translate(205.03,668.30)" font-family="'Liberation Sans', Arial, sans-serif" font-size="33.00" fill="#1e1e1e" stroke="#1e1e1e" stroke-width="0.45">−7.5</text>
<line x1="355.3" y1="615.5" x2="355.3" y2="630.1" stroke="#262626" stroke-width="3.1"/>
<text transform="translate(322.86,668.30)" font-family="'Liberation Sans', Arial, sans-serif" font-size="33.00" fill="#1e1e1e" stroke="#1e1e1e" stroke-width="0.45">−5.0</text>
<line x1="473.2" y1="615.5" x2="473.2" y2="630.1" stroke="#262626" stroke-width="3.1"/>
<text transform="translate(440.78,668.30)" font-family="'Liberation Sans', Arial, sans-serif" font-size="33.00" fill="#1e1e1e" stroke="#1e1e1e" stroke-width="0.45">−2.5</text>
<line x1="591.0" y1="615.5" x2="591.0" y2="630.1" stroke="#262626" stroke-width="3.1"/>
<text transform="translate(568.41,668.30)" font-family="'Liberation Sans', Arial, sans-serif" font-size="33.00" fill="#1e1e1e" stroke="#1e1e1e" stroke-width="0.45">0.0</text>
<line x1="708.9" y1="615.5" x2="708.9" y2="630.1" stroke="#262626" stroke-width="3.1"/>
<text transform="translate(686.15,668.30)" font-family="'Liberation Sans', Arial, sans-serif" font-size="33.00" fill="#1e1e1e" stroke="#1e1e1e" stroke-width="0.45">2.5</text>
<line x1="826.8" y1="615.5" x2="826.8" y2="630.1" stroke="#262626" stroke-width="3.1"/>
<text transform="translate(804.15,668.30)" font-family="'Liberation Sans', Arial, sans-serif" font-size="33.00" fill="#1e1e1e" stroke="#1e1e1e" stroke-width="0.45">5.0</text>
<line x1="944.7" y1="615.5" x2="944.7" y2="630.1" stroke="#262626" stroke-width="3.1"/>
<text transform="translate(921.88,668.30)" font-family="'Liberation Sans', Arial, sans-serif" font-size="33.00" fill="#1e1e1e" stroke="#1e1e1e" stroke-width="0.45">7.5</text>
<rect x="1199.8" y="18.0" width="848.7" height="597.5" fill="none" stroke="#262626" stroke-width="3.2"/>
<line x1="1185.3" y1="615.5" x2="1199.8" y2="615.5" stroke="#262626" stroke-width="3.1"/>
<text transform="translate(1123.71,627.80)" font-family="'Liberation Sans', Arial, sans-serif" font-size="33.00" fill="#1e1e1e" stroke="#1e1e1e" stroke-width="0.45">0.0</text>
<line x1="1185.3" y1="535.8" x2="1199.8" y2="535.8" stroke="#262626" stroke-width="3.1"/>
<text transform="translate(1124.09,548.13)" font-family="'Liberation Sans', Arial, sans-serif" font-size="33.00" fill="#1e1e1e" stroke="#1e1e1e" stroke-width="0.45">0.2</text>
<line x1="1185.3" y1="456.2" x2="1199.8" y2="456.2" stroke="#262626" stroke-width="3.1"/>
<text transform="translate(1123.39,468.46)" font-family="'Liberation Sans', Arial, sans-serif" font-size="33.00" fill="#1e1e1e" stroke="#1e1e1e" stroke-width="0.45">0.4</text>
<line x1="1185.3" y1="376.5" x2="1199.8" y2="376.5" stroke="#262626" stroke-width="3.1"/>
<text transform="translate(1123.88,388.78)" font-family="'Liberation Sans', Arial, sans-serif" font-size="33.00" fill="#1e1e1e" stroke="#1e1e1e" stroke-width="0.45">0.6</text>
<line x1="1185.3" y1="296.8" x2="1199.8" y2="296.8" stroke="#262626" stroke-width="3.1"/>
<text transform="translate(1123.86,309.11)" font-family="'Liberation Sans', Arial, sans-serif" font-size="33.00" fill="#1e1e1e" stroke="#1e1e1e" stroke-width="0.45">0.8</text>
<line x1="1185.3" y1="217.1" x2="1199.8" y2="217.1" stroke="#262626" stroke-width="3.1"/>
<text transform="translate(1123.71,229.44)" font-family="'Liberation Sans', Arial, sans-serif" font-size="33.00" fill="#1e1e1e" stroke="#1e1e1e" stroke-width="0.45">1.0</text>
<line x1="1185.3" y1="137.5" x2="1199.8" y2="137.5" stroke="#262626" stroke-width="3.1"/>
<text transform="translate(1124.09,149.77)" font-family="'Liberation Sans', Arial, sans-serif" font-size="33.00" fill="#1e1e1e" stroke="#1e1e1e" stroke-width="0.45">1.2</text>
<line x1="1185.3" y1="57.8" x2="1199.8" y2="57.8" stroke="#262626" stroke-width="3.1"/>
<text transform="translate(1123.39,70.10)" font-family="'Liberation Sans', Arial, sans-serif" font-size="33.00" fill="#1e1e1e" stroke="#1e1e1e" stroke-width="0.45">1.4</text>
<line x1="1270.5" y1="615.5" x2="1270.5" y2="630.1" stroke="#262626" stroke-width="3.1"/>
<text transform="translate(1238.13,668.30)" font-family="'Liberation Sans', Arial, sans-serif" font-size="33.00" fill="#1e1e1e" stroke="#1e1e1e" stroke-width="0.45">−7.5</text>
<line x1="1388.4" y1="615.5" x2="1388.4" y2="630.1" stroke="#262626" stroke-width="3.1"/>
<text transform="translate(1355.96,668.30)" font-family="'Liberation Sans', Arial, sans-serif" font-size="33.00" fill="#1e1e1e" stroke="#1e1e1e" stroke-width="0.45">−5.0</text>
<line x1="1506.3" y1="615.5" x2="1506.3" y2="630.1" stroke="#262626" stroke-width="3.1"/>
<text transform="translate(1473.88,668.30)" font-family="'Liberation Sans', Arial, sans-serif" font-size="33.00" fill="#1e1e1e" stroke="#1e1e1e" stroke-width="0.45">−2.5</text>
<line x1="1624.2" y1="615.5" x2="1624.2" y2="630.1" stroke="#262626" stroke-width="3.1"/>
<text transform="translate(1601.51,668.30)" font-family="'Liberation Sans', Arial, sans-serif" font-size="33.00" fill="#1e1e1e" stroke="#1e1e1e" stroke-width="0.45">0.0</text>
<line x1="1742.0" y1="615.5" x2="1742.0" y2="630.1" stroke="#262626" stroke-width="3.1"/>
<text transform="translate(1719.25,668.30)" font-family="'Liberation Sans', Arial, sans-serif" font-size="33.00" fill="#1e1e1e" stroke="#1e1e1e" stroke-width="0.45">2.5</text>
<line x1="1859.9" y1="615.5" x2="1859.9" y2="630.1" stroke="#262626" stroke-width="3.1"/>
<text transform="translate(1837.25,668.30)" font-family="'Liberation Sans', Arial, sans-serif" font-size="33.00" fill="#1e1e1e" stroke="#1e1e1e" stroke-width="0.45">5.0</text>
<line x1="1977.8" y1="615.5" x2="1977.8" y2="630.1" stroke="#262626" stroke-width="3.1"/>
<text transform="translate(1954.98,668.30)" font-family="'Liberation Sans', Arial, sans-serif" font-size="33.00" fill="#1e1e1e" stroke="#1e1e1e" stroke-width="0.45">7.5</text>
<text transform="translate(456.74,716.00)" font-family="'Liberation Sans', Arial, sans-serif" font-size="33.61" fill="#1e1e1e" stroke="#1e1e1e" stroke-width="0.45">Delay time, τ  (μs)</text>
<text transform="translate(1489.75,716.00)" font-family="'Liberation Sans', Arial, sans-serif" font-size="33.49" fill="#1e1e1e" stroke="#1e1e1e" stroke-width="0.45">Delay time, τ  (μs)</text>
<text transform="translate(52.00,579.29) rotate(-90)" font-family="'Liberation Sans', Arial, sans-serif" font-size="33.60" fill="#1e1e1e" stroke="#1e1e1e" stroke-width="0.45">Uncorrected coincidence rate, C(τ )</text>
<text transform="translate(1096.50,359.70) rotate(-90)" font-family="'Liberation Sans', Arial, sans-serif" font-size="31.00" fill="#1e1e1e" stroke="#1e1e1e" stroke-width="0.45">g</text>
<text transform="translate(1082.80,338.68) rotate(-90)" font-family="'Liberation Sans', Arial, sans-serif" font-size="19.50" fill="#1e1e1e" stroke="#1e1e1e" stroke-width="0.45">2</text>
<text transform="translate(1094.00,320.86) rotate(-90)" font-family="'Liberation Sans', Arial, sans-serif" font-size="30.00" fill="#1e1e1e" stroke="#1e1e1e" stroke-width="0.45">(</text>
<text transform="translate(1097.30,308.42) rotate(-90)" font-family="'Liberation Sans', Arial, sans-serif" font-size="30.00" fill="#1e1e1e" stroke="#1e1e1e" stroke-width="0.45">τ</text>
<text transform="translate(1094.00,288.18) rotate(-90)" font-family="'Liberation Sans', Arial, sans-serif" font-size="30.00" fill="#1e1e1e" stroke="#1e1e1e" stroke-width="0.45">)</text>
<text transform="translate(-1.03,26.80)" font-family="'Liberation Sans', Arial, sans-serif" font-weight="bold" font-size="40.00" fill="#000" stroke="#000" stroke-width="0.45">A</text>
<text transform="translate(1050.21,27.00) scale(1.0635,0.9967)" font-family="'Liberation Sans', Arial, sans-serif" font-weight="bold" font-size="35.00" fill="#000" stroke="#000" stroke-width="0.45">B</text>
<text transform="translate(725.93,355.00) scale(1.1528,0.9997)" font-family="'Noto Sans CJK JP', sans-serif" font-size="29.50" fill="#1e1e1e" stroke="#1e1e1e" stroke-width="0.45">C</text>
<text transform="translate(751.63,353.20) scale(1.0283,1.0000)" font-family="'Noto Sans CJK JP', sans-serif" font-size="26.10" fill="#1e1e1e" stroke="#1e1e1e" stroke-width="0.45">(0)</text>
<text transform="translate(791.74,353.20) scale(1.2692,1.0000)" font-family="'Noto Sans CJK JP', sans-serif" font-size="26.10" fill="#1e1e1e" stroke="#1e1e1e" stroke-width="0.45">=</text>
<text transform="translate(817.76,353.20) scale(1.0286,1.0000)" font-family="'Noto Sans CJK JP', sans-serif" font-size="26.10" fill="#1e1e1e" stroke="#1e1e1e" stroke-width="0.45">0.55(4)</text>
<text transform="translate(1310.85,501.40) scale(0.9635,1.0000)" font-family="'Liberation Sans', Arial, sans-serif" font-style="italic" font-size="25.50" fill="#1e1e1e" stroke="#1e1e1e" stroke-width="0.45">g</text>
<text transform="translate(1326.03,489.90) scale(1.0519,1.0000)" font-family="'Noto Sans CJK JP', sans-serif" font-size="18.40" fill="#1e1e1e" stroke="#1e1e1e" stroke-width="0.45">2</text>
<text transform="translate(1337.26,501.30) scale(1.0849,1.0000)" font-family="'Noto Sans CJK JP', sans-serif" font-size="26.50" fill="#1e1e1e" stroke="#1e1e1e" stroke-width="0.45">(0)</text>
<text transform="translate(1379.47,501.30) scale(1.2186,1.0000)" font-family="'Noto Sans CJK JP', sans-serif" font-size="26.50" fill="#1e1e1e" stroke="#1e1e1e" stroke-width="0.45">=</text>
<text transform="translate(1405.05,501.30) scale(1.0218,1.0000)" font-family="'Noto Sans CJK JP', sans-serif" font-size="26.50" fill="#1e1e1e" stroke="#1e1e1e" stroke-width="0.45">0.20(6)</text>
<line x1="1646.5" y1="356.5" x2="1709.5" y2="356.5" stroke="#ff7f0e" stroke-width="3.5"/>
<line x1="1646.5" y1="440.5" x2="1709.5" y2="440.5" stroke="#000" stroke-width="2.5"/>
<line x1="1646.5" y1="551" x2="1709.5" y2="551" stroke="#2ca02c" stroke-width="3.5"/>
<text transform="translate(1731.53,326.70)" font-family="'Liberation Sans', Arial, sans-serif" font-size="30.15" fill="#1e1e1e" stroke="#1e1e1e" stroke-width="0.45">Four level model.</text>
<text transform="translate(1731.20,364.00) scale(0.9642,1.0000)" font-family="'DejaVu Sans', sans-serif" font-size="30.00" fill="#1e1e1e" stroke="#1e1e1e" stroke-width="0.45">Ω</text>
<text transform="translate(1753.11,369.00) scale(0.5853,1.0232)" font-family="'DejaVu Sans', sans-serif" font-size="18.50" fill="#1e1e1e" stroke="#1e1e1e" stroke-width="0.45">1</text>
<text transform="translate(1764.65,364.50) scale(1.2476,1.0000)" font-family="'DejaVu Sans', sans-serif" font-size="14.00" fill="#1e1e1e" stroke="#1e1e1e" stroke-width="0.45">‹</text>
<text transform="translate(1770.31,369.00) scale(1.1158,1.0000)" font-family="'DejaVu Sans', sans-serif" font-size="18.20" fill="#1e1e1e" stroke="#1e1e1e" stroke-width="0.45">2</text>
<text transform="translate(1787.93,360.60) scale(1.0096,1.0000)" font-family="'DejaVu Sans', sans-serif" font-size="25.00" fill="#1e1e1e" stroke="#1e1e1e" stroke-width="0.45">=</text>
<text transform="translate(1828.49,361.00) scale(1.0087,1.0000)" font-family="'Liberation Sans', Arial, sans-serif" font-size="29.80" fill="#1e1e1e" stroke="#1e1e1e" stroke-width="0.45">29</text>
<text transform="translate(1858.85,360.90) scale(1.0114,1.0000)" font-family="'DejaVu Sans', sans-serif" font-size="27.00" fill="#1e1e1e" stroke="#1e1e1e" stroke-width="0.45">×</text>
<text transform="translate(1886.87,361.00) scale(1.0239,1.0000)" font-family="'Liberation Sans', Arial, sans-serif" font-size="29.80" fill="#1e1e1e" stroke="#1e1e1e" stroke-width="0.45">2</text>
<text transform="translate(1906.44,361.00) scale(0.8406,1.0000)" font-family="'DejaVu Sans', sans-serif" font-style="oblique" font-size="29.50" fill="#1e1e1e" stroke="#1e1e1e" stroke-width="0.45">π</text>
<text transform="translate(1932.51,361.00) scale(1.0172,1.0000)" font-family="'Liberation Sans', Arial, sans-serif" font-size="29.80" fill="#1e1e1e" stroke="#1e1e1e" stroke-width="0.45">MHz</text>
<text transform="translate(1731.53,412.80)" font-family="'Liberation Sans', Arial, sans-serif" font-size="30.09" fill="#1e1e1e" stroke="#1e1e1e" stroke-width="0.45">Four level model.</text>
<text transform="translate(1732.07,446.20) scale(0.9884,1.0000)" font-family="'DejaVu Sans', sans-serif" font-size="30.00" fill="#1e1e1e" stroke="#1e1e1e" stroke-width="0.45">Ω</text>
<text transform="translate(1756.16,451.10) scale(0.6036,1.0050)" font-family="'DejaVu Sans', sans-serif" font-size="18.70" fill="#1e1e1e" stroke="#1e1e1e" stroke-width="0.45">1</text>
<text transform="translate(1773.68,445.70) scale(0.9905,1.0000)" font-family="'DejaVu Sans', sans-serif" font-size="25.00" fill="#1e1e1e" stroke="#1e1e1e" stroke-width="0.45">=</text>
<text transform="translate(1815.81,446.20) scale(0.9639,1.0000)" font-family="'Liberation Sans', Arial, sans-serif" font-size="29.80" fill="#1e1e1e" stroke="#1e1e1e" stroke-width="0.45">13</text>
<text transform="translate(1845.20,445.80) scale(1.0245,1.0000)" font-family="'DejaVu Sans', sans-serif" font-size="27.00" fill="#1e1e1e" stroke="#1e1e1e" stroke-width="0.45">×</text>
<text transform="translate(1872.28,446.20) scale(0.9502,1.0000)" font-family="'Liberation Sans', Arial, sans-serif" font-size="29.80" fill="#1e1e1e" stroke="#1e1e1e" stroke-width="0.45">2</text>
<text transform="translate(1891.60,446.20) scale(0.8648,1.0000)" font-family="'DejaVu Sans', sans-serif" font-style="oblique" font-size="29.50" fill="#1e1e1e" stroke="#1e1e1e" stroke-width="0.45">π</text>
<text transform="translate(1917.66,446.20) scale(1.0381,1.0000)" font-family="'Liberation Sans', Arial, sans-serif" font-size="29.80" fill="#1e1e1e" stroke="#1e1e1e" stroke-width="0.45">MHz</text>
<text transform="translate(1732.07,481.00) scale(0.9884,1.0000)" font-family="'DejaVu Sans', sans-serif" font-size="30.00" fill="#1e1e1e" stroke="#1e1e1e" stroke-width="0.45">Ω</text>
<text transform="translate(1755.12,485.90) scale(0.9168,1.0187)" font-family="'DejaVu Sans', sans-serif" font-size="20.50" fill="#1e1e1e" stroke="#1e1e1e" stroke-width="0.45">2</text>
<text transform="translate(1773.68,480.50) scale(0.9905,1.0000)" font-family="'DejaVu Sans', sans-serif" font-size="25.00" fill="#1e1e1e" stroke="#1e1e1e" stroke-width="0.45">=</text>
<text transform="translate(1813.93,481.00) scale(1.0448,1.0000)" font-family="'Liberation Sans', Arial, sans-serif" font-size="29.80" fill="#1e1e1e" stroke="#1e1e1e" stroke-width="0.45">22</text>
<text transform="translate(1845.20,480.60) scale(1.0245,1.0000)" font-family="'DejaVu Sans', sans-serif" font-size="27.00" fill="#1e1e1e" stroke="#1e1e1e" stroke-width="0.45">×</text>
<text transform="translate(1872.28,481.00) scale(0.9502,1.0000)" font-family="'Liberation Sans', Arial, sans-serif" font-size="29.80" fill="#1e1e1e" stroke="#1e1e1e" stroke-width="0.45">2</text>
<text transform="translate(1891.60,481.00) scale(0.8648,1.0000)" font-family="'DejaVu Sans', sans-serif" font-style="oblique" font-size="29.50" fill="#1e1e1e" stroke="#1e1e1e" stroke-width="0.45">π</text>
<text transform="translate(1917.66,481.00) scale(1.0381,1.0000)" font-family="'Liberation Sans', Arial, sans-serif" font-size="29.80" fill="#1e1e1e" stroke="#1e1e1e" stroke-width="0.45">MHz</text>
<text transform="translate(1731.22,524.80)" font-family="'Liberation Sans', Arial, sans-serif" font-size="30.21" fill="#1e1e1e" stroke="#1e1e1e" stroke-width="0.45">Five level model.</text>
<text transform="translate(1730.82,556.70) scale(1.1307,0.8800)" font-family="'DejaVu Sans', sans-serif" font-size="28.00" fill="#1e1e1e" stroke="#1e1e1e" stroke-width="0.45">η</text>
<text transform="translate(1755.01,556.60) scale(1.0160,1.0000)" font-family="'DejaVu Sans', sans-serif" font-size="25.00" fill="#1e1e1e" stroke="#1e1e1e" stroke-width="0.45">=</text>
<text transform="translate(1796.50,556.50) scale(0.9444,1.0000)" font-family="'Liberation Sans', Arial, sans-serif" font-size="29.80" fill="#1e1e1e" stroke="#1e1e1e" stroke-width="0.45">0.91</text>
<text transform="translate(1730.68,591.60) scale(1.1825,0.9992)" font-family="'DejaVu Sans', sans-serif" font-size="28.00" fill="#1e1e1e" stroke="#1e1e1e" stroke-width="0.45">τ</text>
<text transform="translate(1749.28,596.00) scale(1.0122,1.0000)" font-family="'DejaVu Sans', sans-serif" font-size="19.80" fill="#1e1e1e" stroke="#1e1e1e" stroke-width="0.45">m</text>
<text transform="translate(1775.29,590.70) scale(1.0224,1.0000)" font-family="'DejaVu Sans', sans-serif" font-size="25.00" fill="#1e1e1e" stroke="#1e1e1e" stroke-width="0.45">=</text>
<text transform="translate(1816.84,591.40) scale(1.0178,1.0000)" font-family="'Liberation Sans', Arial, sans-serif" font-size="29.80" fill="#1e1e1e" stroke="#1e1e1e" stroke-width="0.45">3.3(1)</text>
<text transform="translate(1902.19,591.40) scale(1.0523,1.0000)" font-family="'Liberation Sans', Arial, sans-serif" font-size="29.80" fill="#1e1e1e" stroke="#1e1e1e" stroke-width="0.45">μs</text>
</svg>
</body></html>
